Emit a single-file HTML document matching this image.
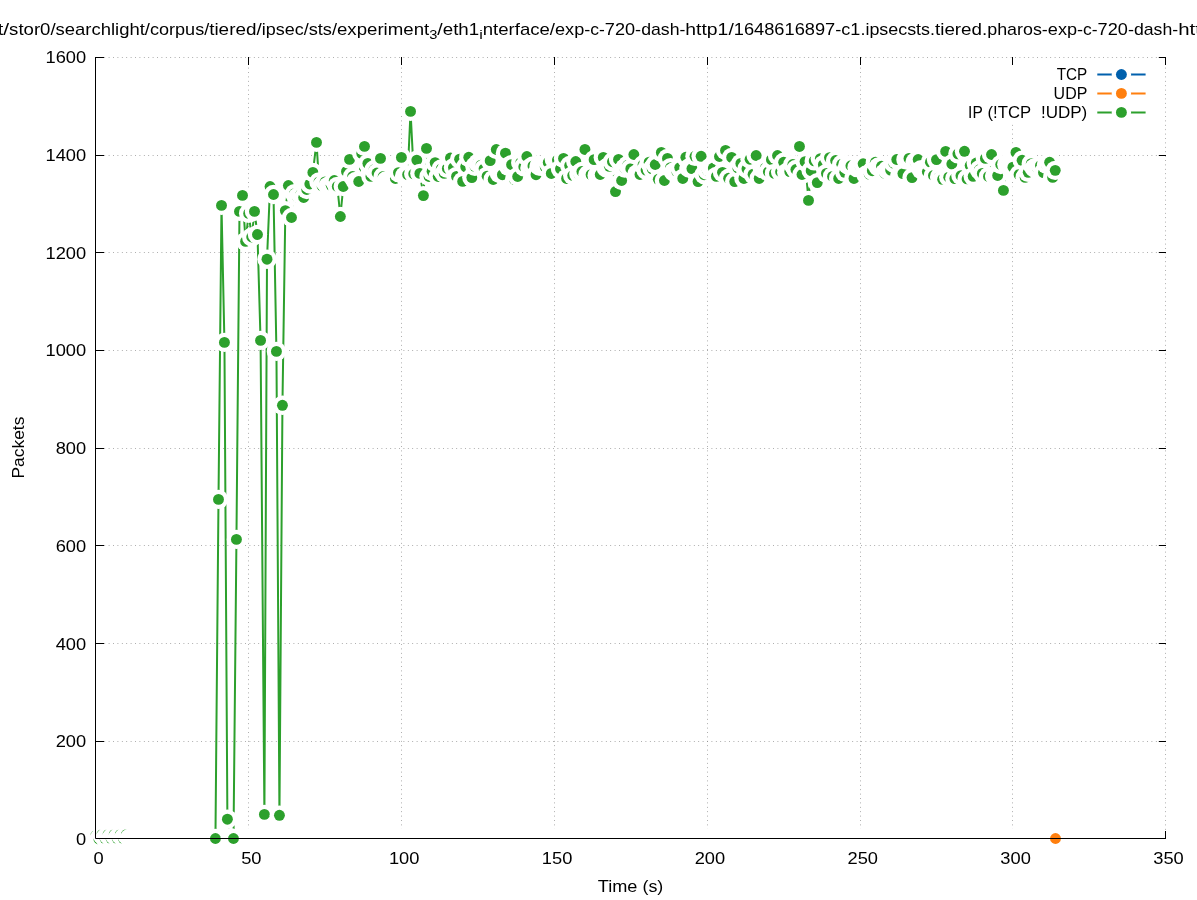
<!DOCTYPE html>
<html lang="en"><head><meta charset="utf-8"><title>Packets over time</title>
<style>html,body{margin:0;padding:0;background:#fff}body{width:1197px;height:900px;overflow:hidden}svg{display:block;will-change:transform}text{font-family:"Liberation Sans",sans-serif;fill:#000}</style>
</head><body>
<svg width="1197" height="900" viewBox="0 0 1197 900">
<rect width="1197" height="900" fill="#fff"/>
<g stroke="#808080" stroke-width="0.8" stroke-dasharray="0.8 3.6" fill="none" shape-rendering="auto">
<path d="M95.5 838.5H1165.5"/>
<path d="M95.5 741.5H1165.5"/>
<path d="M95.5 643.5H1165.5"/>
<path d="M95.5 545.5H1165.5"/>
<path d="M95.5 448.5H1165.5"/>
<path d="M95.5 350.5H1165.5"/>
<path d="M95.5 252.5H1165.5"/>
<path d="M95.5 155.5H1165.5"/>
<path d="M95.5 57.5H1165.5"/>
<path d="M95.5 838.5V57.5"/>
<path d="M248.5 838.5V57.5"/>
<path d="M401.5 838.5V57.5"/>
<path d="M554.5 838.5V57.5"/>
<path d="M707.5 838.5V57.5"/>
<path d="M860.5 838.5V57.5"/>
<path d="M1012.5 838.5V57.5"/>
<path d="M1165.5 838.5V57.5"/>
</g>
<g stroke="#000" stroke-width="1" fill="none">
<path d="M95.5 838.5h8.5 M1166 838.5h-7.2"/>
<path d="M95.5 741.5h8.5 M1166 741.5h-7.2"/>
<path d="M95.5 643.5h8.5 M1166 643.5h-7.2"/>
<path d="M95.5 545.5h8.5 M1166 545.5h-7.2"/>
<path d="M95.5 448.5h8.5 M1166 448.5h-7.2"/>
<path d="M95.5 350.5h8.5 M1166 350.5h-7.2"/>
<path d="M95.5 252.5h8.5 M1166 252.5h-7.2"/>
<path d="M95.5 155.5h8.5 M1166 155.5h-7.2"/>
<path d="M95.5 57.5h8.5 M1166 57.5h-7.2"/>
<path d="M95.5 838.5v-7.5 M95.5 57v8"/>
<path d="M248.5 838.5v-7.5 M248.5 57v8"/>
<path d="M401.5 838.5v-7.5 M401.5 57v8"/>
<path d="M554.5 838.5v-7.5 M554.5 57v8"/>
<path d="M707.5 838.5v-7.5 M707.5 57v8"/>
<path d="M860.5 838.5v-7.5 M860.5 57v8"/>
<path d="M1012.5 838.5v-7.5 M1012.5 57v8"/>
<path d="M1165.5 838.5v-7.5 M1165.5 57v8"/>
</g>
<rect x="962" y="65.3" width="190" height="56.7" fill="#fff"/>
<g>
<text x="76.02" y="845.15" font-size="16.6" textLength="10.18" lengthAdjust="spacingAndGlyphs">0</text>
<text x="55.66" y="747.15" font-size="16.6" textLength="30.54" lengthAdjust="spacingAndGlyphs">200</text>
<text x="55.66" y="650.15" font-size="16.6" textLength="30.54" lengthAdjust="spacingAndGlyphs">400</text>
<text x="55.66" y="552.15" font-size="16.6" textLength="30.54" lengthAdjust="spacingAndGlyphs">600</text>
<text x="55.66" y="454.15" font-size="16.6" textLength="30.54" lengthAdjust="spacingAndGlyphs">800</text>
<text x="45.48" y="356.15" font-size="16.6" textLength="40.72" lengthAdjust="spacingAndGlyphs">1000</text>
<text x="45.48" y="259.15" font-size="16.6" textLength="40.72" lengthAdjust="spacingAndGlyphs">1200</text>
<text x="45.48" y="161.15" font-size="16.6" textLength="40.72" lengthAdjust="spacingAndGlyphs">1400</text>
<text x="45.48" y="63.15" font-size="16.6" textLength="40.72" lengthAdjust="spacingAndGlyphs">1600</text>
<text x="93.41" y="864.1" font-size="16.6" textLength="10.18" lengthAdjust="spacingAndGlyphs">0</text>
<text x="241.18" y="864.1" font-size="16.6" textLength="20.36" lengthAdjust="spacingAndGlyphs">50</text>
<text x="388.94" y="864.1" font-size="16.6" textLength="30.54" lengthAdjust="spacingAndGlyphs">100</text>
<text x="541.8" y="864.1" font-size="16.6" textLength="30.54" lengthAdjust="spacingAndGlyphs">150</text>
<text x="694.66" y="864.1" font-size="16.6" textLength="30.54" lengthAdjust="spacingAndGlyphs">200</text>
<text x="847.52" y="864.1" font-size="16.6" textLength="30.54" lengthAdjust="spacingAndGlyphs">250</text>
<text x="1000.37" y="864.1" font-size="16.6" textLength="30.54" lengthAdjust="spacingAndGlyphs">300</text>
<text x="1153.23" y="864.1" font-size="16.6" textLength="30.54" lengthAdjust="spacingAndGlyphs">350</text>
</g>
<text y="891.9" font-size="16.6" xml:space="preserve"><tspan x="597.72" textLength="39.65" lengthAdjust="spacingAndGlyphs">Time</tspan> <tspan x="642.46" textLength="20.82" lengthAdjust="spacingAndGlyphs">(s)</tspan></text>
<g transform="translate(24.2 447.6) rotate(-90)"><text x="-30.98" y="0" font-size="16.6" textLength="61.97" lengthAdjust="spacingAndGlyphs">Packets</text></g>
<g>
<text y="34.9" font-size="16.6" xml:space="preserve"><tspan x="-2.57" textLength="11.66" lengthAdjust="spacingAndGlyphs">t/</tspan><tspan x="9.09" textLength="46.55" lengthAdjust="spacingAndGlyphs">stor0/</tspan><tspan x="55.64" textLength="94.35" lengthAdjust="spacingAndGlyphs">searchlight/</tspan><tspan x="149.99" textLength="59.19" lengthAdjust="spacingAndGlyphs">corpus/</tspan><tspan x="209.18" textLength="52.53" lengthAdjust="spacingAndGlyphs">tiered/</tspan><tspan x="261.71" textLength="46.97" lengthAdjust="spacingAndGlyphs">ipsec/</tspan><tspan x="308.68" textLength="28.34" lengthAdjust="spacingAndGlyphs">sts/</tspan><tspan x="337.01" textLength="92.18" lengthAdjust="spacingAndGlyphs">experiment</tspan></text>
<text x="429.19" y="38.5" font-size="13.28" textLength="8.14" lengthAdjust="spacingAndGlyphs">3</text>
<text y="34.9" font-size="16.6" xml:space="preserve"><tspan x="437.34" textLength="5.39" lengthAdjust="spacingAndGlyphs">/</tspan><tspan x="442.73" textLength="36.44" lengthAdjust="spacingAndGlyphs">eth1</tspan></text>
<text x="479.16" y="38.5" font-size="13.28" textLength="3.56" lengthAdjust="spacingAndGlyphs">i</text>
<text y="34.9" font-size="16.6" xml:space="preserve"><tspan x="482.72" textLength="72.3" lengthAdjust="spacingAndGlyphs">nterface/</tspan><tspan x="555.02" textLength="35.24" lengthAdjust="spacingAndGlyphs">exp-</tspan><tspan x="590.27" textLength="14.57" lengthAdjust="spacingAndGlyphs">c-</tspan><tspan x="604.84" textLength="36.31" lengthAdjust="spacingAndGlyphs">720-</tspan><tspan x="641.15" textLength="44.21" lengthAdjust="spacingAndGlyphs">dash-</tspan><tspan x="685.36" textLength="48.41" lengthAdjust="spacingAndGlyphs">http1/</tspan><tspan x="733.77" textLength="107.57" lengthAdjust="spacingAndGlyphs">1648616897-</tspan><tspan x="841.35" textLength="24.06" lengthAdjust="spacingAndGlyphs">c1.</tspan><tspan x="865.41" textLength="69.61" lengthAdjust="spacingAndGlyphs">ipsecsts.</tspan><tspan x="935.02" textLength="52.23" lengthAdjust="spacingAndGlyphs">tiered.</tspan><tspan x="987.24" textLength="60.58" lengthAdjust="spacingAndGlyphs">pharos-</tspan><tspan x="1047.82" textLength="35.24" lengthAdjust="spacingAndGlyphs">exp-</tspan><tspan x="1083.06" textLength="14.57" lengthAdjust="spacingAndGlyphs">c-</tspan><tspan x="1097.63" textLength="36.31" lengthAdjust="spacingAndGlyphs">720-</tspan><tspan x="1133.95" textLength="44.21" lengthAdjust="spacingAndGlyphs">dash-</tspan><tspan x="1178.16" textLength="22.69" lengthAdjust="spacingAndGlyphs">htt</tspan></text>
</g>
<g>
<text x="1056.71" y="80" font-size="16.6" textLength="30.59" lengthAdjust="spacingAndGlyphs">TCP</text>
<path d="M1097.3 74.5H1145.6" stroke="#0060ad" stroke-width="2" fill="none"/>
<path d="M95.8 838.5 L98.86 838.5 L101.91 838.5 L104.97 838.5 L108.03 838.5 L111.09 838.5 L114.14 838.5 L117.2 838.5 L120.26 838.5 L123.31 838.5 L126.37 838.5 L129.43 838.5 L132.49 838.5 L135.54 838.5 L138.6 838.5 L141.66 838.5 L144.71 838.5 L147.77 838.5 L150.83 838.5 L153.89 838.5 L156.94 838.5 L160 838.5 L163.06 838.5 L166.11 838.5 L169.17 838.5 L172.23 838.5 L175.29 838.5 L178.34 838.5 L181.4 838.5 L184.46 838.5 L187.51 838.5 L190.57 838.5 L193.63 838.5 L196.69 838.5 L199.74 838.5 L202.8 838.5 L205.86 838.5 L208.91 838.5 L211.97 838.5 L215.03 838.5 L218.09 838.5 L221.14 838.5 L224.2 838.5 L227.26 838.5 L230.31 838.5 L233.37 838.5 L236.43 838.5 L239.49 838.5 L242.54 838.5 L245.6 838.5 L248.66 838.5 L251.71 838.5 L254.77 838.5 L257.83 838.5 L260.89 838.5 L263.94 838.5 L267 838.5 L270.06 838.5 L273.11 838.5 L276.17 838.5 L279.23 838.5 L282.29 838.5 L285.34 838.5 L288.4 838.5 L291.46 838.5 L294.51 838.5 L297.57 838.5 L300.63 838.5 L303.69 838.5 L306.74 838.5 L309.8 838.5 L312.86 838.5 L315.91 838.5 L318.97 838.5 L322.03 838.5 L325.09 838.5 L328.14 838.5 L331.2 838.5 L334.26 838.5 L337.31 838.5 L340.37 838.5 L343.43 838.5 L346.49 838.5 L349.54 838.5 L352.6 838.5 L355.66 838.5 L358.71 838.5 L361.77 838.5 L364.83 838.5 L367.89 838.5 L370.94 838.5 L374 838.5 L377.06 838.5 L380.11 838.5 L383.17 838.5 L386.23 838.5 L389.29 838.5 L392.34 838.5 L395.4 838.5 L398.46 838.5 L401.51 838.5 L404.57 838.5 L407.63 838.5 L410.69 838.5 L413.74 838.5 L416.8 838.5 L419.86 838.5 L422.91 838.5 L425.97 838.5 L429.03 838.5 L432.09 838.5 L435.14 838.5 L438.2 838.5 L441.26 838.5 L444.31 838.5 L447.37 838.5 L450.43 838.5 L453.49 838.5 L456.54 838.5 L459.6 838.5 L462.66 838.5 L465.71 838.5 L468.77 838.5 L471.83 838.5 L474.89 838.5 L477.94 838.5 L481 838.5 L484.06 838.5 L487.11 838.5 L490.17 838.5 L493.23 838.5 L496.29 838.5 L499.34 838.5 L502.4 838.5 L505.46 838.5 L508.51 838.5 L511.57 838.5 L514.63 838.5 L517.69 838.5 L520.74 838.5 L523.8 838.5 L526.86 838.5 L529.91 838.5 L532.97 838.5 L536.03 838.5 L539.09 838.5 L542.14 838.5 L545.2 838.5 L548.26 838.5 L551.31 838.5 L554.37 838.5 L557.43 838.5 L560.49 838.5 L563.54 838.5 L566.6 838.5 L569.66 838.5 L572.71 838.5 L575.77 838.5 L578.83 838.5 L581.89 838.5 L584.94 838.5 L588 838.5 L591.06 838.5 L594.11 838.5 L597.17 838.5 L600.23 838.5 L603.29 838.5 L606.34 838.5 L609.4 838.5 L612.46 838.5 L615.51 838.5 L618.57 838.5 L621.63 838.5 L624.69 838.5 L627.74 838.5 L630.8 838.5 L633.86 838.5 L636.91 838.5 L639.97 838.5 L643.03 838.5 L646.09 838.5 L649.14 838.5 L652.2 838.5 L655.26 838.5 L658.31 838.5 L661.37 838.5 L664.43 838.5 L667.49 838.5 L670.54 838.5 L673.6 838.5 L676.66 838.5 L679.71 838.5 L682.77 838.5 L685.83 838.5 L688.89 838.5 L691.94 838.5 L695 838.5 L698.06 838.5 L701.11 838.5 L704.17 838.5 L707.23 838.5 L710.29 838.5 L713.34 838.5 L716.4 838.5 L719.46 838.5 L722.51 838.5 L725.57 838.5 L728.63 838.5 L731.69 838.5 L734.74 838.5 L737.8 838.5 L740.86 838.5 L743.91 838.5 L746.97 838.5 L750.03 838.5 L753.09 838.5 L756.14 838.5 L759.2 838.5 L762.26 838.5 L765.31 838.5 L768.37 838.5 L771.43 838.5 L774.49 838.5 L777.54 838.5 L780.6 838.5 L783.66 838.5 L786.71 838.5 L789.77 838.5 L792.83 838.5 L795.89 838.5 L798.94 838.5 L802 838.5 L805.06 838.5 L808.11 838.5 L811.17 838.5 L814.23 838.5 L817.29 838.5 L820.34 838.5 L823.4 838.5 L826.46 838.5 L829.51 838.5 L832.57 838.5 L835.63 838.5 L838.69 838.5 L841.74 838.5 L844.8 838.5 L847.86 838.5 L850.91 838.5 L853.97 838.5 L857.03 838.5 L860.09 838.5 L863.14 838.5 L866.2 838.5 L869.26 838.5 L872.31 838.5 L875.37 838.5 L878.43 838.5 L881.49 838.5 L884.54 838.5 L887.6 838.5 L890.66 838.5 L893.71 838.5 L896.77 838.5 L899.83 838.5 L902.89 838.5 L905.94 838.5 L909 838.5 L912.06 838.5 L915.11 838.5 L918.17 838.5 L921.23 838.5 L924.29 838.5 L927.34 838.5 L930.4 838.5 L933.46 838.5 L936.51 838.5 L939.57 838.5 L942.63 838.5 L945.69 838.5 L948.74 838.5 L951.8 838.5 L954.86 838.5 L957.91 838.5 L960.97 838.5 L964.03 838.5 L967.09 838.5 L970.14 838.5 L973.2 838.5 L976.26 838.5 L979.31 838.5 L982.37 838.5 L985.43 838.5 L988.49 838.5 L991.54 838.5 L994.6 838.5 L997.66 838.5 L1000.71 838.5 L1003.77 838.5 L1006.83 838.5 L1009.89 838.5 L1012.94 838.5 L1016 838.5 L1019.06 838.5 L1022.11 838.5 L1025.17 838.5 L1028.23 838.5 L1031.29 838.5 L1034.34 838.5 L1037.4 838.5 L1040.46 838.5 L1043.51 838.5 L1046.57 838.5 L1049.63 838.5 L1052.69 838.5 L1055.74 838.5" stroke="#0060ad" stroke-width="2" fill="none" stroke-linejoin="round" stroke-linecap="butt"/>
<circle cx="1121.4" cy="74.5" r="9.7" fill="#fff"/><circle cx="1121.4" cy="74.5" r="5.45" fill="#0060ad"/>
<circle cx="95.8" cy="838.5" r="9.7" fill="#fff"/><circle cx="95.8" cy="838.5" r="5.45" fill="#0060ad"/>
<circle cx="98.86" cy="838.5" r="9.7" fill="#fff"/><circle cx="98.86" cy="838.5" r="5.45" fill="#0060ad"/>
<circle cx="101.91" cy="838.5" r="9.7" fill="#fff"/><circle cx="101.91" cy="838.5" r="5.45" fill="#0060ad"/>
<circle cx="104.97" cy="838.5" r="9.7" fill="#fff"/><circle cx="104.97" cy="838.5" r="5.45" fill="#0060ad"/>
<circle cx="108.03" cy="838.5" r="9.7" fill="#fff"/><circle cx="108.03" cy="838.5" r="5.45" fill="#0060ad"/>
<circle cx="111.09" cy="838.5" r="9.7" fill="#fff"/><circle cx="111.09" cy="838.5" r="5.45" fill="#0060ad"/>
<circle cx="114.14" cy="838.5" r="9.7" fill="#fff"/><circle cx="114.14" cy="838.5" r="5.45" fill="#0060ad"/>
<circle cx="117.2" cy="838.5" r="9.7" fill="#fff"/><circle cx="117.2" cy="838.5" r="5.45" fill="#0060ad"/>
<circle cx="120.26" cy="838.5" r="9.7" fill="#fff"/><circle cx="120.26" cy="838.5" r="5.45" fill="#0060ad"/>
<circle cx="123.31" cy="838.5" r="9.7" fill="#fff"/><circle cx="123.31" cy="838.5" r="5.45" fill="#0060ad"/>
<circle cx="126.37" cy="838.5" r="9.7" fill="#fff"/><circle cx="126.37" cy="838.5" r="5.45" fill="#0060ad"/>
<circle cx="129.43" cy="838.5" r="9.7" fill="#fff"/><circle cx="129.43" cy="838.5" r="5.45" fill="#0060ad"/>
<circle cx="132.49" cy="838.5" r="9.7" fill="#fff"/><circle cx="132.49" cy="838.5" r="5.45" fill="#0060ad"/>
<circle cx="135.54" cy="838.5" r="9.7" fill="#fff"/><circle cx="135.54" cy="838.5" r="5.45" fill="#0060ad"/>
<circle cx="138.6" cy="838.5" r="9.7" fill="#fff"/><circle cx="138.6" cy="838.5" r="5.45" fill="#0060ad"/>
<circle cx="141.66" cy="838.5" r="9.7" fill="#fff"/><circle cx="141.66" cy="838.5" r="5.45" fill="#0060ad"/>
<circle cx="144.71" cy="838.5" r="9.7" fill="#fff"/><circle cx="144.71" cy="838.5" r="5.45" fill="#0060ad"/>
<circle cx="147.77" cy="838.5" r="9.7" fill="#fff"/><circle cx="147.77" cy="838.5" r="5.45" fill="#0060ad"/>
<circle cx="150.83" cy="838.5" r="9.7" fill="#fff"/><circle cx="150.83" cy="838.5" r="5.45" fill="#0060ad"/>
<circle cx="153.89" cy="838.5" r="9.7" fill="#fff"/><circle cx="153.89" cy="838.5" r="5.45" fill="#0060ad"/>
<circle cx="156.94" cy="838.5" r="9.7" fill="#fff"/><circle cx="156.94" cy="838.5" r="5.45" fill="#0060ad"/>
<circle cx="160" cy="838.5" r="9.7" fill="#fff"/><circle cx="160" cy="838.5" r="5.45" fill="#0060ad"/>
<circle cx="163.06" cy="838.5" r="9.7" fill="#fff"/><circle cx="163.06" cy="838.5" r="5.45" fill="#0060ad"/>
<circle cx="166.11" cy="838.5" r="9.7" fill="#fff"/><circle cx="166.11" cy="838.5" r="5.45" fill="#0060ad"/>
<circle cx="169.17" cy="838.5" r="9.7" fill="#fff"/><circle cx="169.17" cy="838.5" r="5.45" fill="#0060ad"/>
<circle cx="172.23" cy="838.5" r="9.7" fill="#fff"/><circle cx="172.23" cy="838.5" r="5.45" fill="#0060ad"/>
<circle cx="175.29" cy="838.5" r="9.7" fill="#fff"/><circle cx="175.29" cy="838.5" r="5.45" fill="#0060ad"/>
<circle cx="178.34" cy="838.5" r="9.7" fill="#fff"/><circle cx="178.34" cy="838.5" r="5.45" fill="#0060ad"/>
<circle cx="181.4" cy="838.5" r="9.7" fill="#fff"/><circle cx="181.4" cy="838.5" r="5.45" fill="#0060ad"/>
<circle cx="184.46" cy="838.5" r="9.7" fill="#fff"/><circle cx="184.46" cy="838.5" r="5.45" fill="#0060ad"/>
<circle cx="187.51" cy="838.5" r="9.7" fill="#fff"/><circle cx="187.51" cy="838.5" r="5.45" fill="#0060ad"/>
<circle cx="190.57" cy="838.5" r="9.7" fill="#fff"/><circle cx="190.57" cy="838.5" r="5.45" fill="#0060ad"/>
<circle cx="193.63" cy="838.5" r="9.7" fill="#fff"/><circle cx="193.63" cy="838.5" r="5.45" fill="#0060ad"/>
<circle cx="196.69" cy="838.5" r="9.7" fill="#fff"/><circle cx="196.69" cy="838.5" r="5.45" fill="#0060ad"/>
<circle cx="199.74" cy="838.5" r="9.7" fill="#fff"/><circle cx="199.74" cy="838.5" r="5.45" fill="#0060ad"/>
<circle cx="202.8" cy="838.5" r="9.7" fill="#fff"/><circle cx="202.8" cy="838.5" r="5.45" fill="#0060ad"/>
<circle cx="205.86" cy="838.5" r="9.7" fill="#fff"/><circle cx="205.86" cy="838.5" r="5.45" fill="#0060ad"/>
<circle cx="208.91" cy="838.5" r="9.7" fill="#fff"/><circle cx="208.91" cy="838.5" r="5.45" fill="#0060ad"/>
<circle cx="211.97" cy="838.5" r="9.7" fill="#fff"/><circle cx="211.97" cy="838.5" r="5.45" fill="#0060ad"/>
<circle cx="215.03" cy="838.5" r="9.7" fill="#fff"/><circle cx="215.03" cy="838.5" r="5.45" fill="#0060ad"/>
<circle cx="218.09" cy="838.5" r="9.7" fill="#fff"/><circle cx="218.09" cy="838.5" r="5.45" fill="#0060ad"/>
<circle cx="221.14" cy="838.5" r="9.7" fill="#fff"/><circle cx="221.14" cy="838.5" r="5.45" fill="#0060ad"/>
<circle cx="224.2" cy="838.5" r="9.7" fill="#fff"/><circle cx="224.2" cy="838.5" r="5.45" fill="#0060ad"/>
<circle cx="227.26" cy="838.5" r="9.7" fill="#fff"/><circle cx="227.26" cy="838.5" r="5.45" fill="#0060ad"/>
<circle cx="230.31" cy="838.5" r="9.7" fill="#fff"/><circle cx="230.31" cy="838.5" r="5.45" fill="#0060ad"/>
<circle cx="233.37" cy="838.5" r="9.7" fill="#fff"/><circle cx="233.37" cy="838.5" r="5.45" fill="#0060ad"/>
<circle cx="236.43" cy="838.5" r="9.7" fill="#fff"/><circle cx="236.43" cy="838.5" r="5.45" fill="#0060ad"/>
<circle cx="239.49" cy="838.5" r="9.7" fill="#fff"/><circle cx="239.49" cy="838.5" r="5.45" fill="#0060ad"/>
<circle cx="242.54" cy="838.5" r="9.7" fill="#fff"/><circle cx="242.54" cy="838.5" r="5.45" fill="#0060ad"/>
<circle cx="245.6" cy="838.5" r="9.7" fill="#fff"/><circle cx="245.6" cy="838.5" r="5.45" fill="#0060ad"/>
<circle cx="248.66" cy="838.5" r="9.7" fill="#fff"/><circle cx="248.66" cy="838.5" r="5.45" fill="#0060ad"/>
<circle cx="251.71" cy="838.5" r="9.7" fill="#fff"/><circle cx="251.71" cy="838.5" r="5.45" fill="#0060ad"/>
<circle cx="254.77" cy="838.5" r="9.7" fill="#fff"/><circle cx="254.77" cy="838.5" r="5.45" fill="#0060ad"/>
<circle cx="257.83" cy="838.5" r="9.7" fill="#fff"/><circle cx="257.83" cy="838.5" r="5.45" fill="#0060ad"/>
<circle cx="260.89" cy="838.5" r="9.7" fill="#fff"/><circle cx="260.89" cy="838.5" r="5.45" fill="#0060ad"/>
<circle cx="263.94" cy="838.5" r="9.7" fill="#fff"/><circle cx="263.94" cy="838.5" r="5.45" fill="#0060ad"/>
<circle cx="267" cy="838.5" r="9.7" fill="#fff"/><circle cx="267" cy="838.5" r="5.45" fill="#0060ad"/>
<circle cx="270.06" cy="838.5" r="9.7" fill="#fff"/><circle cx="270.06" cy="838.5" r="5.45" fill="#0060ad"/>
<circle cx="273.11" cy="838.5" r="9.7" fill="#fff"/><circle cx="273.11" cy="838.5" r="5.45" fill="#0060ad"/>
<circle cx="276.17" cy="838.5" r="9.7" fill="#fff"/><circle cx="276.17" cy="838.5" r="5.45" fill="#0060ad"/>
<circle cx="279.23" cy="838.5" r="9.7" fill="#fff"/><circle cx="279.23" cy="838.5" r="5.45" fill="#0060ad"/>
<circle cx="282.29" cy="838.5" r="9.7" fill="#fff"/><circle cx="282.29" cy="838.5" r="5.45" fill="#0060ad"/>
<circle cx="285.34" cy="838.5" r="9.7" fill="#fff"/><circle cx="285.34" cy="838.5" r="5.45" fill="#0060ad"/>
<circle cx="288.4" cy="838.5" r="9.7" fill="#fff"/><circle cx="288.4" cy="838.5" r="5.45" fill="#0060ad"/>
<circle cx="291.46" cy="838.5" r="9.7" fill="#fff"/><circle cx="291.46" cy="838.5" r="5.45" fill="#0060ad"/>
<circle cx="294.51" cy="838.5" r="9.7" fill="#fff"/><circle cx="294.51" cy="838.5" r="5.45" fill="#0060ad"/>
<circle cx="297.57" cy="838.5" r="9.7" fill="#fff"/><circle cx="297.57" cy="838.5" r="5.45" fill="#0060ad"/>
<circle cx="300.63" cy="838.5" r="9.7" fill="#fff"/><circle cx="300.63" cy="838.5" r="5.45" fill="#0060ad"/>
<circle cx="303.69" cy="838.5" r="9.7" fill="#fff"/><circle cx="303.69" cy="838.5" r="5.45" fill="#0060ad"/>
<circle cx="306.74" cy="838.5" r="9.7" fill="#fff"/><circle cx="306.74" cy="838.5" r="5.45" fill="#0060ad"/>
<circle cx="309.8" cy="838.5" r="9.7" fill="#fff"/><circle cx="309.8" cy="838.5" r="5.45" fill="#0060ad"/>
<circle cx="312.86" cy="838.5" r="9.7" fill="#fff"/><circle cx="312.86" cy="838.5" r="5.45" fill="#0060ad"/>
<circle cx="315.91" cy="838.5" r="9.7" fill="#fff"/><circle cx="315.91" cy="838.5" r="5.45" fill="#0060ad"/>
<circle cx="318.97" cy="838.5" r="9.7" fill="#fff"/><circle cx="318.97" cy="838.5" r="5.45" fill="#0060ad"/>
<circle cx="322.03" cy="838.5" r="9.7" fill="#fff"/><circle cx="322.03" cy="838.5" r="5.45" fill="#0060ad"/>
<circle cx="325.09" cy="838.5" r="9.7" fill="#fff"/><circle cx="325.09" cy="838.5" r="5.45" fill="#0060ad"/>
<circle cx="328.14" cy="838.5" r="9.7" fill="#fff"/><circle cx="328.14" cy="838.5" r="5.45" fill="#0060ad"/>
<circle cx="331.2" cy="838.5" r="9.7" fill="#fff"/><circle cx="331.2" cy="838.5" r="5.45" fill="#0060ad"/>
<circle cx="334.26" cy="838.5" r="9.7" fill="#fff"/><circle cx="334.26" cy="838.5" r="5.45" fill="#0060ad"/>
<circle cx="337.31" cy="838.5" r="9.7" fill="#fff"/><circle cx="337.31" cy="838.5" r="5.45" fill="#0060ad"/>
<circle cx="340.37" cy="838.5" r="9.7" fill="#fff"/><circle cx="340.37" cy="838.5" r="5.45" fill="#0060ad"/>
<circle cx="343.43" cy="838.5" r="9.7" fill="#fff"/><circle cx="343.43" cy="838.5" r="5.45" fill="#0060ad"/>
<circle cx="346.49" cy="838.5" r="9.7" fill="#fff"/><circle cx="346.49" cy="838.5" r="5.45" fill="#0060ad"/>
<circle cx="349.54" cy="838.5" r="9.7" fill="#fff"/><circle cx="349.54" cy="838.5" r="5.45" fill="#0060ad"/>
<circle cx="352.6" cy="838.5" r="9.7" fill="#fff"/><circle cx="352.6" cy="838.5" r="5.45" fill="#0060ad"/>
<circle cx="355.66" cy="838.5" r="9.7" fill="#fff"/><circle cx="355.66" cy="838.5" r="5.45" fill="#0060ad"/>
<circle cx="358.71" cy="838.5" r="9.7" fill="#fff"/><circle cx="358.71" cy="838.5" r="5.45" fill="#0060ad"/>
<circle cx="361.77" cy="838.5" r="9.7" fill="#fff"/><circle cx="361.77" cy="838.5" r="5.45" fill="#0060ad"/>
<circle cx="364.83" cy="838.5" r="9.7" fill="#fff"/><circle cx="364.83" cy="838.5" r="5.45" fill="#0060ad"/>
<circle cx="367.89" cy="838.5" r="9.7" fill="#fff"/><circle cx="367.89" cy="838.5" r="5.45" fill="#0060ad"/>
<circle cx="370.94" cy="838.5" r="9.7" fill="#fff"/><circle cx="370.94" cy="838.5" r="5.45" fill="#0060ad"/>
<circle cx="374" cy="838.5" r="9.7" fill="#fff"/><circle cx="374" cy="838.5" r="5.45" fill="#0060ad"/>
<circle cx="377.06" cy="838.5" r="9.7" fill="#fff"/><circle cx="377.06" cy="838.5" r="5.45" fill="#0060ad"/>
<circle cx="380.11" cy="838.5" r="9.7" fill="#fff"/><circle cx="380.11" cy="838.5" r="5.45" fill="#0060ad"/>
<circle cx="383.17" cy="838.5" r="9.7" fill="#fff"/><circle cx="383.17" cy="838.5" r="5.45" fill="#0060ad"/>
<circle cx="386.23" cy="838.5" r="9.7" fill="#fff"/><circle cx="386.23" cy="838.5" r="5.45" fill="#0060ad"/>
<circle cx="389.29" cy="838.5" r="9.7" fill="#fff"/><circle cx="389.29" cy="838.5" r="5.45" fill="#0060ad"/>
<circle cx="392.34" cy="838.5" r="9.7" fill="#fff"/><circle cx="392.34" cy="838.5" r="5.45" fill="#0060ad"/>
<circle cx="395.4" cy="838.5" r="9.7" fill="#fff"/><circle cx="395.4" cy="838.5" r="5.45" fill="#0060ad"/>
<circle cx="398.46" cy="838.5" r="9.7" fill="#fff"/><circle cx="398.46" cy="838.5" r="5.45" fill="#0060ad"/>
<circle cx="401.51" cy="838.5" r="9.7" fill="#fff"/><circle cx="401.51" cy="838.5" r="5.45" fill="#0060ad"/>
<circle cx="404.57" cy="838.5" r="9.7" fill="#fff"/><circle cx="404.57" cy="838.5" r="5.45" fill="#0060ad"/>
<circle cx="407.63" cy="838.5" r="9.7" fill="#fff"/><circle cx="407.63" cy="838.5" r="5.45" fill="#0060ad"/>
<circle cx="410.69" cy="838.5" r="9.7" fill="#fff"/><circle cx="410.69" cy="838.5" r="5.45" fill="#0060ad"/>
<circle cx="413.74" cy="838.5" r="9.7" fill="#fff"/><circle cx="413.74" cy="838.5" r="5.45" fill="#0060ad"/>
<circle cx="416.8" cy="838.5" r="9.7" fill="#fff"/><circle cx="416.8" cy="838.5" r="5.45" fill="#0060ad"/>
<circle cx="419.86" cy="838.5" r="9.7" fill="#fff"/><circle cx="419.86" cy="838.5" r="5.45" fill="#0060ad"/>
<circle cx="422.91" cy="838.5" r="9.7" fill="#fff"/><circle cx="422.91" cy="838.5" r="5.45" fill="#0060ad"/>
<circle cx="425.97" cy="838.5" r="9.7" fill="#fff"/><circle cx="425.97" cy="838.5" r="5.45" fill="#0060ad"/>
<circle cx="429.03" cy="838.5" r="9.7" fill="#fff"/><circle cx="429.03" cy="838.5" r="5.45" fill="#0060ad"/>
<circle cx="432.09" cy="838.5" r="9.7" fill="#fff"/><circle cx="432.09" cy="838.5" r="5.45" fill="#0060ad"/>
<circle cx="435.14" cy="838.5" r="9.7" fill="#fff"/><circle cx="435.14" cy="838.5" r="5.45" fill="#0060ad"/>
<circle cx="438.2" cy="838.5" r="9.7" fill="#fff"/><circle cx="438.2" cy="838.5" r="5.45" fill="#0060ad"/>
<circle cx="441.26" cy="838.5" r="9.7" fill="#fff"/><circle cx="441.26" cy="838.5" r="5.45" fill="#0060ad"/>
<circle cx="444.31" cy="838.5" r="9.7" fill="#fff"/><circle cx="444.31" cy="838.5" r="5.45" fill="#0060ad"/>
<circle cx="447.37" cy="838.5" r="9.7" fill="#fff"/><circle cx="447.37" cy="838.5" r="5.45" fill="#0060ad"/>
<circle cx="450.43" cy="838.5" r="9.7" fill="#fff"/><circle cx="450.43" cy="838.5" r="5.45" fill="#0060ad"/>
<circle cx="453.49" cy="838.5" r="9.7" fill="#fff"/><circle cx="453.49" cy="838.5" r="5.45" fill="#0060ad"/>
<circle cx="456.54" cy="838.5" r="9.7" fill="#fff"/><circle cx="456.54" cy="838.5" r="5.45" fill="#0060ad"/>
<circle cx="459.6" cy="838.5" r="9.7" fill="#fff"/><circle cx="459.6" cy="838.5" r="5.45" fill="#0060ad"/>
<circle cx="462.66" cy="838.5" r="9.7" fill="#fff"/><circle cx="462.66" cy="838.5" r="5.45" fill="#0060ad"/>
<circle cx="465.71" cy="838.5" r="9.7" fill="#fff"/><circle cx="465.71" cy="838.5" r="5.45" fill="#0060ad"/>
<circle cx="468.77" cy="838.5" r="9.7" fill="#fff"/><circle cx="468.77" cy="838.5" r="5.45" fill="#0060ad"/>
<circle cx="471.83" cy="838.5" r="9.7" fill="#fff"/><circle cx="471.83" cy="838.5" r="5.45" fill="#0060ad"/>
<circle cx="474.89" cy="838.5" r="9.7" fill="#fff"/><circle cx="474.89" cy="838.5" r="5.45" fill="#0060ad"/>
<circle cx="477.94" cy="838.5" r="9.7" fill="#fff"/><circle cx="477.94" cy="838.5" r="5.45" fill="#0060ad"/>
<circle cx="481" cy="838.5" r="9.7" fill="#fff"/><circle cx="481" cy="838.5" r="5.45" fill="#0060ad"/>
<circle cx="484.06" cy="838.5" r="9.7" fill="#fff"/><circle cx="484.06" cy="838.5" r="5.45" fill="#0060ad"/>
<circle cx="487.11" cy="838.5" r="9.7" fill="#fff"/><circle cx="487.11" cy="838.5" r="5.45" fill="#0060ad"/>
<circle cx="490.17" cy="838.5" r="9.7" fill="#fff"/><circle cx="490.17" cy="838.5" r="5.45" fill="#0060ad"/>
<circle cx="493.23" cy="838.5" r="9.7" fill="#fff"/><circle cx="493.23" cy="838.5" r="5.45" fill="#0060ad"/>
<circle cx="496.29" cy="838.5" r="9.7" fill="#fff"/><circle cx="496.29" cy="838.5" r="5.45" fill="#0060ad"/>
<circle cx="499.34" cy="838.5" r="9.7" fill="#fff"/><circle cx="499.34" cy="838.5" r="5.45" fill="#0060ad"/>
<circle cx="502.4" cy="838.5" r="9.7" fill="#fff"/><circle cx="502.4" cy="838.5" r="5.45" fill="#0060ad"/>
<circle cx="505.46" cy="838.5" r="9.7" fill="#fff"/><circle cx="505.46" cy="838.5" r="5.45" fill="#0060ad"/>
<circle cx="508.51" cy="838.5" r="9.7" fill="#fff"/><circle cx="508.51" cy="838.5" r="5.45" fill="#0060ad"/>
<circle cx="511.57" cy="838.5" r="9.7" fill="#fff"/><circle cx="511.57" cy="838.5" r="5.45" fill="#0060ad"/>
<circle cx="514.63" cy="838.5" r="9.7" fill="#fff"/><circle cx="514.63" cy="838.5" r="5.45" fill="#0060ad"/>
<circle cx="517.69" cy="838.5" r="9.7" fill="#fff"/><circle cx="517.69" cy="838.5" r="5.45" fill="#0060ad"/>
<circle cx="520.74" cy="838.5" r="9.7" fill="#fff"/><circle cx="520.74" cy="838.5" r="5.45" fill="#0060ad"/>
<circle cx="523.8" cy="838.5" r="9.7" fill="#fff"/><circle cx="523.8" cy="838.5" r="5.45" fill="#0060ad"/>
<circle cx="526.86" cy="838.5" r="9.7" fill="#fff"/><circle cx="526.86" cy="838.5" r="5.45" fill="#0060ad"/>
<circle cx="529.91" cy="838.5" r="9.7" fill="#fff"/><circle cx="529.91" cy="838.5" r="5.45" fill="#0060ad"/>
<circle cx="532.97" cy="838.5" r="9.7" fill="#fff"/><circle cx="532.97" cy="838.5" r="5.45" fill="#0060ad"/>
<circle cx="536.03" cy="838.5" r="9.7" fill="#fff"/><circle cx="536.03" cy="838.5" r="5.45" fill="#0060ad"/>
<circle cx="539.09" cy="838.5" r="9.7" fill="#fff"/><circle cx="539.09" cy="838.5" r="5.45" fill="#0060ad"/>
<circle cx="542.14" cy="838.5" r="9.7" fill="#fff"/><circle cx="542.14" cy="838.5" r="5.45" fill="#0060ad"/>
<circle cx="545.2" cy="838.5" r="9.7" fill="#fff"/><circle cx="545.2" cy="838.5" r="5.45" fill="#0060ad"/>
<circle cx="548.26" cy="838.5" r="9.7" fill="#fff"/><circle cx="548.26" cy="838.5" r="5.45" fill="#0060ad"/>
<circle cx="551.31" cy="838.5" r="9.7" fill="#fff"/><circle cx="551.31" cy="838.5" r="5.45" fill="#0060ad"/>
<circle cx="554.37" cy="838.5" r="9.7" fill="#fff"/><circle cx="554.37" cy="838.5" r="5.45" fill="#0060ad"/>
<circle cx="557.43" cy="838.5" r="9.7" fill="#fff"/><circle cx="557.43" cy="838.5" r="5.45" fill="#0060ad"/>
<circle cx="560.49" cy="838.5" r="9.7" fill="#fff"/><circle cx="560.49" cy="838.5" r="5.45" fill="#0060ad"/>
<circle cx="563.54" cy="838.5" r="9.7" fill="#fff"/><circle cx="563.54" cy="838.5" r="5.45" fill="#0060ad"/>
<circle cx="566.6" cy="838.5" r="9.7" fill="#fff"/><circle cx="566.6" cy="838.5" r="5.45" fill="#0060ad"/>
<circle cx="569.66" cy="838.5" r="9.7" fill="#fff"/><circle cx="569.66" cy="838.5" r="5.45" fill="#0060ad"/>
<circle cx="572.71" cy="838.5" r="9.7" fill="#fff"/><circle cx="572.71" cy="838.5" r="5.45" fill="#0060ad"/>
<circle cx="575.77" cy="838.5" r="9.7" fill="#fff"/><circle cx="575.77" cy="838.5" r="5.45" fill="#0060ad"/>
<circle cx="578.83" cy="838.5" r="9.7" fill="#fff"/><circle cx="578.83" cy="838.5" r="5.45" fill="#0060ad"/>
<circle cx="581.89" cy="838.5" r="9.7" fill="#fff"/><circle cx="581.89" cy="838.5" r="5.45" fill="#0060ad"/>
<circle cx="584.94" cy="838.5" r="9.7" fill="#fff"/><circle cx="584.94" cy="838.5" r="5.45" fill="#0060ad"/>
<circle cx="588" cy="838.5" r="9.7" fill="#fff"/><circle cx="588" cy="838.5" r="5.45" fill="#0060ad"/>
<circle cx="591.06" cy="838.5" r="9.7" fill="#fff"/><circle cx="591.06" cy="838.5" r="5.45" fill="#0060ad"/>
<circle cx="594.11" cy="838.5" r="9.7" fill="#fff"/><circle cx="594.11" cy="838.5" r="5.45" fill="#0060ad"/>
<circle cx="597.17" cy="838.5" r="9.7" fill="#fff"/><circle cx="597.17" cy="838.5" r="5.45" fill="#0060ad"/>
<circle cx="600.23" cy="838.5" r="9.7" fill="#fff"/><circle cx="600.23" cy="838.5" r="5.45" fill="#0060ad"/>
<circle cx="603.29" cy="838.5" r="9.7" fill="#fff"/><circle cx="603.29" cy="838.5" r="5.45" fill="#0060ad"/>
<circle cx="606.34" cy="838.5" r="9.7" fill="#fff"/><circle cx="606.34" cy="838.5" r="5.45" fill="#0060ad"/>
<circle cx="609.4" cy="838.5" r="9.7" fill="#fff"/><circle cx="609.4" cy="838.5" r="5.45" fill="#0060ad"/>
<circle cx="612.46" cy="838.5" r="9.7" fill="#fff"/><circle cx="612.46" cy="838.5" r="5.45" fill="#0060ad"/>
<circle cx="615.51" cy="838.5" r="9.7" fill="#fff"/><circle cx="615.51" cy="838.5" r="5.45" fill="#0060ad"/>
<circle cx="618.57" cy="838.5" r="9.7" fill="#fff"/><circle cx="618.57" cy="838.5" r="5.45" fill="#0060ad"/>
<circle cx="621.63" cy="838.5" r="9.7" fill="#fff"/><circle cx="621.63" cy="838.5" r="5.45" fill="#0060ad"/>
<circle cx="624.69" cy="838.5" r="9.7" fill="#fff"/><circle cx="624.69" cy="838.5" r="5.45" fill="#0060ad"/>
<circle cx="627.74" cy="838.5" r="9.7" fill="#fff"/><circle cx="627.74" cy="838.5" r="5.45" fill="#0060ad"/>
<circle cx="630.8" cy="838.5" r="9.7" fill="#fff"/><circle cx="630.8" cy="838.5" r="5.45" fill="#0060ad"/>
<circle cx="633.86" cy="838.5" r="9.7" fill="#fff"/><circle cx="633.86" cy="838.5" r="5.45" fill="#0060ad"/>
<circle cx="636.91" cy="838.5" r="9.7" fill="#fff"/><circle cx="636.91" cy="838.5" r="5.45" fill="#0060ad"/>
<circle cx="639.97" cy="838.5" r="9.7" fill="#fff"/><circle cx="639.97" cy="838.5" r="5.45" fill="#0060ad"/>
<circle cx="643.03" cy="838.5" r="9.7" fill="#fff"/><circle cx="643.03" cy="838.5" r="5.45" fill="#0060ad"/>
<circle cx="646.09" cy="838.5" r="9.7" fill="#fff"/><circle cx="646.09" cy="838.5" r="5.45" fill="#0060ad"/>
<circle cx="649.14" cy="838.5" r="9.7" fill="#fff"/><circle cx="649.14" cy="838.5" r="5.45" fill="#0060ad"/>
<circle cx="652.2" cy="838.5" r="9.7" fill="#fff"/><circle cx="652.2" cy="838.5" r="5.45" fill="#0060ad"/>
<circle cx="655.26" cy="838.5" r="9.7" fill="#fff"/><circle cx="655.26" cy="838.5" r="5.45" fill="#0060ad"/>
<circle cx="658.31" cy="838.5" r="9.7" fill="#fff"/><circle cx="658.31" cy="838.5" r="5.45" fill="#0060ad"/>
<circle cx="661.37" cy="838.5" r="9.7" fill="#fff"/><circle cx="661.37" cy="838.5" r="5.45" fill="#0060ad"/>
<circle cx="664.43" cy="838.5" r="9.7" fill="#fff"/><circle cx="664.43" cy="838.5" r="5.45" fill="#0060ad"/>
<circle cx="667.49" cy="838.5" r="9.7" fill="#fff"/><circle cx="667.49" cy="838.5" r="5.45" fill="#0060ad"/>
<circle cx="670.54" cy="838.5" r="9.7" fill="#fff"/><circle cx="670.54" cy="838.5" r="5.45" fill="#0060ad"/>
<circle cx="673.6" cy="838.5" r="9.7" fill="#fff"/><circle cx="673.6" cy="838.5" r="5.45" fill="#0060ad"/>
<circle cx="676.66" cy="838.5" r="9.7" fill="#fff"/><circle cx="676.66" cy="838.5" r="5.45" fill="#0060ad"/>
<circle cx="679.71" cy="838.5" r="9.7" fill="#fff"/><circle cx="679.71" cy="838.5" r="5.45" fill="#0060ad"/>
<circle cx="682.77" cy="838.5" r="9.7" fill="#fff"/><circle cx="682.77" cy="838.5" r="5.45" fill="#0060ad"/>
<circle cx="685.83" cy="838.5" r="9.7" fill="#fff"/><circle cx="685.83" cy="838.5" r="5.45" fill="#0060ad"/>
<circle cx="688.89" cy="838.5" r="9.7" fill="#fff"/><circle cx="688.89" cy="838.5" r="5.45" fill="#0060ad"/>
<circle cx="691.94" cy="838.5" r="9.7" fill="#fff"/><circle cx="691.94" cy="838.5" r="5.45" fill="#0060ad"/>
<circle cx="695" cy="838.5" r="9.7" fill="#fff"/><circle cx="695" cy="838.5" r="5.45" fill="#0060ad"/>
<circle cx="698.06" cy="838.5" r="9.7" fill="#fff"/><circle cx="698.06" cy="838.5" r="5.45" fill="#0060ad"/>
<circle cx="701.11" cy="838.5" r="9.7" fill="#fff"/><circle cx="701.11" cy="838.5" r="5.45" fill="#0060ad"/>
<circle cx="704.17" cy="838.5" r="9.7" fill="#fff"/><circle cx="704.17" cy="838.5" r="5.45" fill="#0060ad"/>
<circle cx="707.23" cy="838.5" r="9.7" fill="#fff"/><circle cx="707.23" cy="838.5" r="5.45" fill="#0060ad"/>
<circle cx="710.29" cy="838.5" r="9.7" fill="#fff"/><circle cx="710.29" cy="838.5" r="5.45" fill="#0060ad"/>
<circle cx="713.34" cy="838.5" r="9.7" fill="#fff"/><circle cx="713.34" cy="838.5" r="5.45" fill="#0060ad"/>
<circle cx="716.4" cy="838.5" r="9.7" fill="#fff"/><circle cx="716.4" cy="838.5" r="5.45" fill="#0060ad"/>
<circle cx="719.46" cy="838.5" r="9.7" fill="#fff"/><circle cx="719.46" cy="838.5" r="5.45" fill="#0060ad"/>
<circle cx="722.51" cy="838.5" r="9.7" fill="#fff"/><circle cx="722.51" cy="838.5" r="5.45" fill="#0060ad"/>
<circle cx="725.57" cy="838.5" r="9.7" fill="#fff"/><circle cx="725.57" cy="838.5" r="5.45" fill="#0060ad"/>
<circle cx="728.63" cy="838.5" r="9.7" fill="#fff"/><circle cx="728.63" cy="838.5" r="5.45" fill="#0060ad"/>
<circle cx="731.69" cy="838.5" r="9.7" fill="#fff"/><circle cx="731.69" cy="838.5" r="5.45" fill="#0060ad"/>
<circle cx="734.74" cy="838.5" r="9.7" fill="#fff"/><circle cx="734.74" cy="838.5" r="5.45" fill="#0060ad"/>
<circle cx="737.8" cy="838.5" r="9.7" fill="#fff"/><circle cx="737.8" cy="838.5" r="5.45" fill="#0060ad"/>
<circle cx="740.86" cy="838.5" r="9.7" fill="#fff"/><circle cx="740.86" cy="838.5" r="5.45" fill="#0060ad"/>
<circle cx="743.91" cy="838.5" r="9.7" fill="#fff"/><circle cx="743.91" cy="838.5" r="5.45" fill="#0060ad"/>
<circle cx="746.97" cy="838.5" r="9.7" fill="#fff"/><circle cx="746.97" cy="838.5" r="5.45" fill="#0060ad"/>
<circle cx="750.03" cy="838.5" r="9.7" fill="#fff"/><circle cx="750.03" cy="838.5" r="5.45" fill="#0060ad"/>
<circle cx="753.09" cy="838.5" r="9.7" fill="#fff"/><circle cx="753.09" cy="838.5" r="5.45" fill="#0060ad"/>
<circle cx="756.14" cy="838.5" r="9.7" fill="#fff"/><circle cx="756.14" cy="838.5" r="5.45" fill="#0060ad"/>
<circle cx="759.2" cy="838.5" r="9.7" fill="#fff"/><circle cx="759.2" cy="838.5" r="5.45" fill="#0060ad"/>
<circle cx="762.26" cy="838.5" r="9.7" fill="#fff"/><circle cx="762.26" cy="838.5" r="5.45" fill="#0060ad"/>
<circle cx="765.31" cy="838.5" r="9.7" fill="#fff"/><circle cx="765.31" cy="838.5" r="5.45" fill="#0060ad"/>
<circle cx="768.37" cy="838.5" r="9.7" fill="#fff"/><circle cx="768.37" cy="838.5" r="5.45" fill="#0060ad"/>
<circle cx="771.43" cy="838.5" r="9.7" fill="#fff"/><circle cx="771.43" cy="838.5" r="5.45" fill="#0060ad"/>
<circle cx="774.49" cy="838.5" r="9.7" fill="#fff"/><circle cx="774.49" cy="838.5" r="5.45" fill="#0060ad"/>
<circle cx="777.54" cy="838.5" r="9.7" fill="#fff"/><circle cx="777.54" cy="838.5" r="5.45" fill="#0060ad"/>
<circle cx="780.6" cy="838.5" r="9.7" fill="#fff"/><circle cx="780.6" cy="838.5" r="5.45" fill="#0060ad"/>
<circle cx="783.66" cy="838.5" r="9.7" fill="#fff"/><circle cx="783.66" cy="838.5" r="5.45" fill="#0060ad"/>
<circle cx="786.71" cy="838.5" r="9.7" fill="#fff"/><circle cx="786.71" cy="838.5" r="5.45" fill="#0060ad"/>
<circle cx="789.77" cy="838.5" r="9.7" fill="#fff"/><circle cx="789.77" cy="838.5" r="5.45" fill="#0060ad"/>
<circle cx="792.83" cy="838.5" r="9.7" fill="#fff"/><circle cx="792.83" cy="838.5" r="5.45" fill="#0060ad"/>
<circle cx="795.89" cy="838.5" r="9.7" fill="#fff"/><circle cx="795.89" cy="838.5" r="5.45" fill="#0060ad"/>
<circle cx="798.94" cy="838.5" r="9.7" fill="#fff"/><circle cx="798.94" cy="838.5" r="5.45" fill="#0060ad"/>
<circle cx="802" cy="838.5" r="9.7" fill="#fff"/><circle cx="802" cy="838.5" r="5.45" fill="#0060ad"/>
<circle cx="805.06" cy="838.5" r="9.7" fill="#fff"/><circle cx="805.06" cy="838.5" r="5.45" fill="#0060ad"/>
<circle cx="808.11" cy="838.5" r="9.7" fill="#fff"/><circle cx="808.11" cy="838.5" r="5.45" fill="#0060ad"/>
<circle cx="811.17" cy="838.5" r="9.7" fill="#fff"/><circle cx="811.17" cy="838.5" r="5.45" fill="#0060ad"/>
<circle cx="814.23" cy="838.5" r="9.7" fill="#fff"/><circle cx="814.23" cy="838.5" r="5.45" fill="#0060ad"/>
<circle cx="817.29" cy="838.5" r="9.7" fill="#fff"/><circle cx="817.29" cy="838.5" r="5.45" fill="#0060ad"/>
<circle cx="820.34" cy="838.5" r="9.7" fill="#fff"/><circle cx="820.34" cy="838.5" r="5.45" fill="#0060ad"/>
<circle cx="823.4" cy="838.5" r="9.7" fill="#fff"/><circle cx="823.4" cy="838.5" r="5.45" fill="#0060ad"/>
<circle cx="826.46" cy="838.5" r="9.7" fill="#fff"/><circle cx="826.46" cy="838.5" r="5.45" fill="#0060ad"/>
<circle cx="829.51" cy="838.5" r="9.7" fill="#fff"/><circle cx="829.51" cy="838.5" r="5.45" fill="#0060ad"/>
<circle cx="832.57" cy="838.5" r="9.7" fill="#fff"/><circle cx="832.57" cy="838.5" r="5.45" fill="#0060ad"/>
<circle cx="835.63" cy="838.5" r="9.7" fill="#fff"/><circle cx="835.63" cy="838.5" r="5.45" fill="#0060ad"/>
<circle cx="838.69" cy="838.5" r="9.7" fill="#fff"/><circle cx="838.69" cy="838.5" r="5.45" fill="#0060ad"/>
<circle cx="841.74" cy="838.5" r="9.7" fill="#fff"/><circle cx="841.74" cy="838.5" r="5.45" fill="#0060ad"/>
<circle cx="844.8" cy="838.5" r="9.7" fill="#fff"/><circle cx="844.8" cy="838.5" r="5.45" fill="#0060ad"/>
<circle cx="847.86" cy="838.5" r="9.7" fill="#fff"/><circle cx="847.86" cy="838.5" r="5.45" fill="#0060ad"/>
<circle cx="850.91" cy="838.5" r="9.7" fill="#fff"/><circle cx="850.91" cy="838.5" r="5.45" fill="#0060ad"/>
<circle cx="853.97" cy="838.5" r="9.7" fill="#fff"/><circle cx="853.97" cy="838.5" r="5.45" fill="#0060ad"/>
<circle cx="857.03" cy="838.5" r="9.7" fill="#fff"/><circle cx="857.03" cy="838.5" r="5.45" fill="#0060ad"/>
<circle cx="860.09" cy="838.5" r="9.7" fill="#fff"/><circle cx="860.09" cy="838.5" r="5.45" fill="#0060ad"/>
<circle cx="863.14" cy="838.5" r="9.7" fill="#fff"/><circle cx="863.14" cy="838.5" r="5.45" fill="#0060ad"/>
<circle cx="866.2" cy="838.5" r="9.7" fill="#fff"/><circle cx="866.2" cy="838.5" r="5.45" fill="#0060ad"/>
<circle cx="869.26" cy="838.5" r="9.7" fill="#fff"/><circle cx="869.26" cy="838.5" r="5.45" fill="#0060ad"/>
<circle cx="872.31" cy="838.5" r="9.7" fill="#fff"/><circle cx="872.31" cy="838.5" r="5.45" fill="#0060ad"/>
<circle cx="875.37" cy="838.5" r="9.7" fill="#fff"/><circle cx="875.37" cy="838.5" r="5.45" fill="#0060ad"/>
<circle cx="878.43" cy="838.5" r="9.7" fill="#fff"/><circle cx="878.43" cy="838.5" r="5.45" fill="#0060ad"/>
<circle cx="881.49" cy="838.5" r="9.7" fill="#fff"/><circle cx="881.49" cy="838.5" r="5.45" fill="#0060ad"/>
<circle cx="884.54" cy="838.5" r="9.7" fill="#fff"/><circle cx="884.54" cy="838.5" r="5.45" fill="#0060ad"/>
<circle cx="887.6" cy="838.5" r="9.7" fill="#fff"/><circle cx="887.6" cy="838.5" r="5.45" fill="#0060ad"/>
<circle cx="890.66" cy="838.5" r="9.7" fill="#fff"/><circle cx="890.66" cy="838.5" r="5.45" fill="#0060ad"/>
<circle cx="893.71" cy="838.5" r="9.7" fill="#fff"/><circle cx="893.71" cy="838.5" r="5.45" fill="#0060ad"/>
<circle cx="896.77" cy="838.5" r="9.7" fill="#fff"/><circle cx="896.77" cy="838.5" r="5.45" fill="#0060ad"/>
<circle cx="899.83" cy="838.5" r="9.7" fill="#fff"/><circle cx="899.83" cy="838.5" r="5.45" fill="#0060ad"/>
<circle cx="902.89" cy="838.5" r="9.7" fill="#fff"/><circle cx="902.89" cy="838.5" r="5.45" fill="#0060ad"/>
<circle cx="905.94" cy="838.5" r="9.7" fill="#fff"/><circle cx="905.94" cy="838.5" r="5.45" fill="#0060ad"/>
<circle cx="909" cy="838.5" r="9.7" fill="#fff"/><circle cx="909" cy="838.5" r="5.45" fill="#0060ad"/>
<circle cx="912.06" cy="838.5" r="9.7" fill="#fff"/><circle cx="912.06" cy="838.5" r="5.45" fill="#0060ad"/>
<circle cx="915.11" cy="838.5" r="9.7" fill="#fff"/><circle cx="915.11" cy="838.5" r="5.45" fill="#0060ad"/>
<circle cx="918.17" cy="838.5" r="9.7" fill="#fff"/><circle cx="918.17" cy="838.5" r="5.45" fill="#0060ad"/>
<circle cx="921.23" cy="838.5" r="9.7" fill="#fff"/><circle cx="921.23" cy="838.5" r="5.45" fill="#0060ad"/>
<circle cx="924.29" cy="838.5" r="9.7" fill="#fff"/><circle cx="924.29" cy="838.5" r="5.45" fill="#0060ad"/>
<circle cx="927.34" cy="838.5" r="9.7" fill="#fff"/><circle cx="927.34" cy="838.5" r="5.45" fill="#0060ad"/>
<circle cx="930.4" cy="838.5" r="9.7" fill="#fff"/><circle cx="930.4" cy="838.5" r="5.45" fill="#0060ad"/>
<circle cx="933.46" cy="838.5" r="9.7" fill="#fff"/><circle cx="933.46" cy="838.5" r="5.45" fill="#0060ad"/>
<circle cx="936.51" cy="838.5" r="9.7" fill="#fff"/><circle cx="936.51" cy="838.5" r="5.45" fill="#0060ad"/>
<circle cx="939.57" cy="838.5" r="9.7" fill="#fff"/><circle cx="939.57" cy="838.5" r="5.45" fill="#0060ad"/>
<circle cx="942.63" cy="838.5" r="9.7" fill="#fff"/><circle cx="942.63" cy="838.5" r="5.45" fill="#0060ad"/>
<circle cx="945.69" cy="838.5" r="9.7" fill="#fff"/><circle cx="945.69" cy="838.5" r="5.45" fill="#0060ad"/>
<circle cx="948.74" cy="838.5" r="9.7" fill="#fff"/><circle cx="948.74" cy="838.5" r="5.45" fill="#0060ad"/>
<circle cx="951.8" cy="838.5" r="9.7" fill="#fff"/><circle cx="951.8" cy="838.5" r="5.45" fill="#0060ad"/>
<circle cx="954.86" cy="838.5" r="9.7" fill="#fff"/><circle cx="954.86" cy="838.5" r="5.45" fill="#0060ad"/>
<circle cx="957.91" cy="838.5" r="9.7" fill="#fff"/><circle cx="957.91" cy="838.5" r="5.45" fill="#0060ad"/>
<circle cx="960.97" cy="838.5" r="9.7" fill="#fff"/><circle cx="960.97" cy="838.5" r="5.45" fill="#0060ad"/>
<circle cx="964.03" cy="838.5" r="9.7" fill="#fff"/><circle cx="964.03" cy="838.5" r="5.45" fill="#0060ad"/>
<circle cx="967.09" cy="838.5" r="9.7" fill="#fff"/><circle cx="967.09" cy="838.5" r="5.45" fill="#0060ad"/>
<circle cx="970.14" cy="838.5" r="9.7" fill="#fff"/><circle cx="970.14" cy="838.5" r="5.45" fill="#0060ad"/>
<circle cx="973.2" cy="838.5" r="9.7" fill="#fff"/><circle cx="973.2" cy="838.5" r="5.45" fill="#0060ad"/>
<circle cx="976.26" cy="838.5" r="9.7" fill="#fff"/><circle cx="976.26" cy="838.5" r="5.45" fill="#0060ad"/>
<circle cx="979.31" cy="838.5" r="9.7" fill="#fff"/><circle cx="979.31" cy="838.5" r="5.45" fill="#0060ad"/>
<circle cx="982.37" cy="838.5" r="9.7" fill="#fff"/><circle cx="982.37" cy="838.5" r="5.45" fill="#0060ad"/>
<circle cx="985.43" cy="838.5" r="9.7" fill="#fff"/><circle cx="985.43" cy="838.5" r="5.45" fill="#0060ad"/>
<circle cx="988.49" cy="838.5" r="9.7" fill="#fff"/><circle cx="988.49" cy="838.5" r="5.45" fill="#0060ad"/>
<circle cx="991.54" cy="838.5" r="9.7" fill="#fff"/><circle cx="991.54" cy="838.5" r="5.45" fill="#0060ad"/>
<circle cx="994.6" cy="838.5" r="9.7" fill="#fff"/><circle cx="994.6" cy="838.5" r="5.45" fill="#0060ad"/>
<circle cx="997.66" cy="838.5" r="9.7" fill="#fff"/><circle cx="997.66" cy="838.5" r="5.45" fill="#0060ad"/>
<circle cx="1000.71" cy="838.5" r="9.7" fill="#fff"/><circle cx="1000.71" cy="838.5" r="5.45" fill="#0060ad"/>
<circle cx="1003.77" cy="838.5" r="9.7" fill="#fff"/><circle cx="1003.77" cy="838.5" r="5.45" fill="#0060ad"/>
<circle cx="1006.83" cy="838.5" r="9.7" fill="#fff"/><circle cx="1006.83" cy="838.5" r="5.45" fill="#0060ad"/>
<circle cx="1009.89" cy="838.5" r="9.7" fill="#fff"/><circle cx="1009.89" cy="838.5" r="5.45" fill="#0060ad"/>
<circle cx="1012.94" cy="838.5" r="9.7" fill="#fff"/><circle cx="1012.94" cy="838.5" r="5.45" fill="#0060ad"/>
<circle cx="1016" cy="838.5" r="9.7" fill="#fff"/><circle cx="1016" cy="838.5" r="5.45" fill="#0060ad"/>
<circle cx="1019.06" cy="838.5" r="9.7" fill="#fff"/><circle cx="1019.06" cy="838.5" r="5.45" fill="#0060ad"/>
<circle cx="1022.11" cy="838.5" r="9.7" fill="#fff"/><circle cx="1022.11" cy="838.5" r="5.45" fill="#0060ad"/>
<circle cx="1025.17" cy="838.5" r="9.7" fill="#fff"/><circle cx="1025.17" cy="838.5" r="5.45" fill="#0060ad"/>
<circle cx="1028.23" cy="838.5" r="9.7" fill="#fff"/><circle cx="1028.23" cy="838.5" r="5.45" fill="#0060ad"/>
<circle cx="1031.29" cy="838.5" r="9.7" fill="#fff"/><circle cx="1031.29" cy="838.5" r="5.45" fill="#0060ad"/>
<circle cx="1034.34" cy="838.5" r="9.7" fill="#fff"/><circle cx="1034.34" cy="838.5" r="5.45" fill="#0060ad"/>
<circle cx="1037.4" cy="838.5" r="9.7" fill="#fff"/><circle cx="1037.4" cy="838.5" r="5.45" fill="#0060ad"/>
<circle cx="1040.46" cy="838.5" r="9.7" fill="#fff"/><circle cx="1040.46" cy="838.5" r="5.45" fill="#0060ad"/>
<circle cx="1043.51" cy="838.5" r="9.7" fill="#fff"/><circle cx="1043.51" cy="838.5" r="5.45" fill="#0060ad"/>
<circle cx="1046.57" cy="838.5" r="9.7" fill="#fff"/><circle cx="1046.57" cy="838.5" r="5.45" fill="#0060ad"/>
<circle cx="1049.63" cy="838.5" r="9.7" fill="#fff"/><circle cx="1049.63" cy="838.5" r="5.45" fill="#0060ad"/>
<circle cx="1052.69" cy="838.5" r="9.7" fill="#fff"/><circle cx="1052.69" cy="838.5" r="5.45" fill="#0060ad"/>
<circle cx="1055.74" cy="838.5" r="9.7" fill="#fff"/><circle cx="1055.74" cy="838.5" r="5.45" fill="#0060ad"/>
</g>
<g>
<text x="1053.62" y="98.9" font-size="16.6" textLength="33.68" lengthAdjust="spacingAndGlyphs">UDP</text>
<path d="M1097.3 93.4H1145.6" stroke="#ff7f0e" stroke-width="2" fill="none"/>
<path d="M95.8 838.5 L98.86 838.5 L101.91 838.5 L104.97 838.5 L108.03 838.5 L111.09 838.5 L114.14 838.5 L117.2 838.5 L120.26 838.5 L123.31 838.5 L126.37 838.5 L129.43 838.5 L132.49 838.5 L135.54 838.5 L138.6 838.5 L141.66 838.5 L144.71 838.5 L147.77 838.5 L150.83 838.5 L153.89 838.5 L156.94 838.5 L160 838.5 L163.06 838.5 L166.11 838.5 L169.17 838.5 L172.23 838.5 L175.29 838.5 L178.34 838.5 L181.4 838.5 L184.46 838.5 L187.51 838.5 L190.57 838.5 L193.63 838.5 L196.69 838.5 L199.74 838.5 L202.8 838.5 L205.86 838.5 L208.91 838.5 L211.97 838.5 L215.03 838.5 L218.09 838.5 L221.14 838.5 L224.2 838.5 L227.26 838.5 L230.31 838.5 L233.37 838.5 L236.43 838.5 L239.49 838.5 L242.54 838.5 L245.6 838.5 L248.66 838.5 L251.71 838.5 L254.77 838.5 L257.83 838.5 L260.89 838.5 L263.94 838.5 L267 838.5 L270.06 838.5 L273.11 838.5 L276.17 838.5 L279.23 838.5 L282.29 838.5 L285.34 838.5 L288.4 838.5 L291.46 838.5 L294.51 838.5 L297.57 838.5 L300.63 838.5 L303.69 838.5 L306.74 838.5 L309.8 838.5 L312.86 838.5 L315.91 838.5 L318.97 838.5 L322.03 838.5 L325.09 838.5 L328.14 838.5 L331.2 838.5 L334.26 838.5 L337.31 838.5 L340.37 838.5 L343.43 838.5 L346.49 838.5 L349.54 838.5 L352.6 838.5 L355.66 838.5 L358.71 838.5 L361.77 838.5 L364.83 838.5 L367.89 838.5 L370.94 838.5 L374 838.5 L377.06 838.5 L380.11 838.5 L383.17 838.5 L386.23 838.5 L389.29 838.5 L392.34 838.5 L395.4 838.5 L398.46 838.5 L401.51 838.5 L404.57 838.5 L407.63 838.5 L410.69 838.5 L413.74 838.5 L416.8 838.5 L419.86 838.5 L422.91 838.5 L425.97 838.5 L429.03 838.5 L432.09 838.5 L435.14 838.5 L438.2 838.5 L441.26 838.5 L444.31 838.5 L447.37 838.5 L450.43 838.5 L453.49 838.5 L456.54 838.5 L459.6 838.5 L462.66 838.5 L465.71 838.5 L468.77 838.5 L471.83 838.5 L474.89 838.5 L477.94 838.5 L481 838.5 L484.06 838.5 L487.11 838.5 L490.17 838.5 L493.23 838.5 L496.29 838.5 L499.34 838.5 L502.4 838.5 L505.46 838.5 L508.51 838.5 L511.57 838.5 L514.63 838.5 L517.69 838.5 L520.74 838.5 L523.8 838.5 L526.86 838.5 L529.91 838.5 L532.97 838.5 L536.03 838.5 L539.09 838.5 L542.14 838.5 L545.2 838.5 L548.26 838.5 L551.31 838.5 L554.37 838.5 L557.43 838.5 L560.49 838.5 L563.54 838.5 L566.6 838.5 L569.66 838.5 L572.71 838.5 L575.77 838.5 L578.83 838.5 L581.89 838.5 L584.94 838.5 L588 838.5 L591.06 838.5 L594.11 838.5 L597.17 838.5 L600.23 838.5 L603.29 838.5 L606.34 838.5 L609.4 838.5 L612.46 838.5 L615.51 838.5 L618.57 838.5 L621.63 838.5 L624.69 838.5 L627.74 838.5 L630.8 838.5 L633.86 838.5 L636.91 838.5 L639.97 838.5 L643.03 838.5 L646.09 838.5 L649.14 838.5 L652.2 838.5 L655.26 838.5 L658.31 838.5 L661.37 838.5 L664.43 838.5 L667.49 838.5 L670.54 838.5 L673.6 838.5 L676.66 838.5 L679.71 838.5 L682.77 838.5 L685.83 838.5 L688.89 838.5 L691.94 838.5 L695 838.5 L698.06 838.5 L701.11 838.5 L704.17 838.5 L707.23 838.5 L710.29 838.5 L713.34 838.5 L716.4 838.5 L719.46 838.5 L722.51 838.5 L725.57 838.5 L728.63 838.5 L731.69 838.5 L734.74 838.5 L737.8 838.5 L740.86 838.5 L743.91 838.5 L746.97 838.5 L750.03 838.5 L753.09 838.5 L756.14 838.5 L759.2 838.5 L762.26 838.5 L765.31 838.5 L768.37 838.5 L771.43 838.5 L774.49 838.5 L777.54 838.5 L780.6 838.5 L783.66 838.5 L786.71 838.5 L789.77 838.5 L792.83 838.5 L795.89 838.5 L798.94 838.5 L802 838.5 L805.06 838.5 L808.11 838.5 L811.17 838.5 L814.23 838.5 L817.29 838.5 L820.34 838.5 L823.4 838.5 L826.46 838.5 L829.51 838.5 L832.57 838.5 L835.63 838.5 L838.69 838.5 L841.74 838.5 L844.8 838.5 L847.86 838.5 L850.91 838.5 L853.97 838.5 L857.03 838.5 L860.09 838.5 L863.14 838.5 L866.2 838.5 L869.26 838.5 L872.31 838.5 L875.37 838.5 L878.43 838.5 L881.49 838.5 L884.54 838.5 L887.6 838.5 L890.66 838.5 L893.71 838.5 L896.77 838.5 L899.83 838.5 L902.89 838.5 L905.94 838.5 L909 838.5 L912.06 838.5 L915.11 838.5 L918.17 838.5 L921.23 838.5 L924.29 838.5 L927.34 838.5 L930.4 838.5 L933.46 838.5 L936.51 838.5 L939.57 838.5 L942.63 838.5 L945.69 838.5 L948.74 838.5 L951.8 838.5 L954.86 838.5 L957.91 838.5 L960.97 838.5 L964.03 838.5 L967.09 838.5 L970.14 838.5 L973.2 838.5 L976.26 838.5 L979.31 838.5 L982.37 838.5 L985.43 838.5 L988.49 838.5 L991.54 838.5 L994.6 838.5 L997.66 838.5 L1000.71 838.5 L1003.77 838.5 L1006.83 838.5 L1009.89 838.5 L1012.94 838.5 L1016 838.5 L1019.06 838.5 L1022.11 838.5 L1025.17 838.5 L1028.23 838.5 L1031.29 838.5 L1034.34 838.5 L1037.4 838.5 L1040.46 838.5 L1043.51 838.5 L1046.57 838.5 L1049.63 838.5 L1052.69 838.5 L1055.5 838.5" stroke="#ff7f0e" stroke-width="2" fill="none" stroke-linejoin="round" stroke-linecap="butt"/>
<circle cx="1121.4" cy="93.4" r="9.7" fill="#fff"/><circle cx="1121.4" cy="93.4" r="5.45" fill="#ff7f0e"/>
<circle cx="95.8" cy="838.5" r="9.7" fill="#fff"/><circle cx="95.8" cy="838.5" r="5.45" fill="#ff7f0e"/>
<circle cx="98.86" cy="838.5" r="9.7" fill="#fff"/><circle cx="98.86" cy="838.5" r="5.45" fill="#ff7f0e"/>
<circle cx="101.91" cy="838.5" r="9.7" fill="#fff"/><circle cx="101.91" cy="838.5" r="5.45" fill="#ff7f0e"/>
<circle cx="104.97" cy="838.5" r="9.7" fill="#fff"/><circle cx="104.97" cy="838.5" r="5.45" fill="#ff7f0e"/>
<circle cx="108.03" cy="838.5" r="9.7" fill="#fff"/><circle cx="108.03" cy="838.5" r="5.45" fill="#ff7f0e"/>
<circle cx="111.09" cy="838.5" r="9.7" fill="#fff"/><circle cx="111.09" cy="838.5" r="5.45" fill="#ff7f0e"/>
<circle cx="114.14" cy="838.5" r="9.7" fill="#fff"/><circle cx="114.14" cy="838.5" r="5.45" fill="#ff7f0e"/>
<circle cx="117.2" cy="838.5" r="9.7" fill="#fff"/><circle cx="117.2" cy="838.5" r="5.45" fill="#ff7f0e"/>
<circle cx="120.26" cy="838.5" r="9.7" fill="#fff"/><circle cx="120.26" cy="838.5" r="5.45" fill="#ff7f0e"/>
<circle cx="123.31" cy="838.5" r="9.7" fill="#fff"/><circle cx="123.31" cy="838.5" r="5.45" fill="#ff7f0e"/>
<circle cx="126.37" cy="838.5" r="9.7" fill="#fff"/><circle cx="126.37" cy="838.5" r="5.45" fill="#ff7f0e"/>
<circle cx="129.43" cy="838.5" r="9.7" fill="#fff"/><circle cx="129.43" cy="838.5" r="5.45" fill="#ff7f0e"/>
<circle cx="132.49" cy="838.5" r="9.7" fill="#fff"/><circle cx="132.49" cy="838.5" r="5.45" fill="#ff7f0e"/>
<circle cx="135.54" cy="838.5" r="9.7" fill="#fff"/><circle cx="135.54" cy="838.5" r="5.45" fill="#ff7f0e"/>
<circle cx="138.6" cy="838.5" r="9.7" fill="#fff"/><circle cx="138.6" cy="838.5" r="5.45" fill="#ff7f0e"/>
<circle cx="141.66" cy="838.5" r="9.7" fill="#fff"/><circle cx="141.66" cy="838.5" r="5.45" fill="#ff7f0e"/>
<circle cx="144.71" cy="838.5" r="9.7" fill="#fff"/><circle cx="144.71" cy="838.5" r="5.45" fill="#ff7f0e"/>
<circle cx="147.77" cy="838.5" r="9.7" fill="#fff"/><circle cx="147.77" cy="838.5" r="5.45" fill="#ff7f0e"/>
<circle cx="150.83" cy="838.5" r="9.7" fill="#fff"/><circle cx="150.83" cy="838.5" r="5.45" fill="#ff7f0e"/>
<circle cx="153.89" cy="838.5" r="9.7" fill="#fff"/><circle cx="153.89" cy="838.5" r="5.45" fill="#ff7f0e"/>
<circle cx="156.94" cy="838.5" r="9.7" fill="#fff"/><circle cx="156.94" cy="838.5" r="5.45" fill="#ff7f0e"/>
<circle cx="160" cy="838.5" r="9.7" fill="#fff"/><circle cx="160" cy="838.5" r="5.45" fill="#ff7f0e"/>
<circle cx="163.06" cy="838.5" r="9.7" fill="#fff"/><circle cx="163.06" cy="838.5" r="5.45" fill="#ff7f0e"/>
<circle cx="166.11" cy="838.5" r="9.7" fill="#fff"/><circle cx="166.11" cy="838.5" r="5.45" fill="#ff7f0e"/>
<circle cx="169.17" cy="838.5" r="9.7" fill="#fff"/><circle cx="169.17" cy="838.5" r="5.45" fill="#ff7f0e"/>
<circle cx="172.23" cy="838.5" r="9.7" fill="#fff"/><circle cx="172.23" cy="838.5" r="5.45" fill="#ff7f0e"/>
<circle cx="175.29" cy="838.5" r="9.7" fill="#fff"/><circle cx="175.29" cy="838.5" r="5.45" fill="#ff7f0e"/>
<circle cx="178.34" cy="838.5" r="9.7" fill="#fff"/><circle cx="178.34" cy="838.5" r="5.45" fill="#ff7f0e"/>
<circle cx="181.4" cy="838.5" r="9.7" fill="#fff"/><circle cx="181.4" cy="838.5" r="5.45" fill="#ff7f0e"/>
<circle cx="184.46" cy="838.5" r="9.7" fill="#fff"/><circle cx="184.46" cy="838.5" r="5.45" fill="#ff7f0e"/>
<circle cx="187.51" cy="838.5" r="9.7" fill="#fff"/><circle cx="187.51" cy="838.5" r="5.45" fill="#ff7f0e"/>
<circle cx="190.57" cy="838.5" r="9.7" fill="#fff"/><circle cx="190.57" cy="838.5" r="5.45" fill="#ff7f0e"/>
<circle cx="193.63" cy="838.5" r="9.7" fill="#fff"/><circle cx="193.63" cy="838.5" r="5.45" fill="#ff7f0e"/>
<circle cx="196.69" cy="838.5" r="9.7" fill="#fff"/><circle cx="196.69" cy="838.5" r="5.45" fill="#ff7f0e"/>
<circle cx="199.74" cy="838.5" r="9.7" fill="#fff"/><circle cx="199.74" cy="838.5" r="5.45" fill="#ff7f0e"/>
<circle cx="202.8" cy="838.5" r="9.7" fill="#fff"/><circle cx="202.8" cy="838.5" r="5.45" fill="#ff7f0e"/>
<circle cx="205.86" cy="838.5" r="9.7" fill="#fff"/><circle cx="205.86" cy="838.5" r="5.45" fill="#ff7f0e"/>
<circle cx="208.91" cy="838.5" r="9.7" fill="#fff"/><circle cx="208.91" cy="838.5" r="5.45" fill="#ff7f0e"/>
<circle cx="211.97" cy="838.5" r="9.7" fill="#fff"/><circle cx="211.97" cy="838.5" r="5.45" fill="#ff7f0e"/>
<circle cx="215.03" cy="838.5" r="9.7" fill="#fff"/><circle cx="215.03" cy="838.5" r="5.45" fill="#ff7f0e"/>
<circle cx="218.09" cy="838.5" r="9.7" fill="#fff"/><circle cx="218.09" cy="838.5" r="5.45" fill="#ff7f0e"/>
<circle cx="221.14" cy="838.5" r="9.7" fill="#fff"/><circle cx="221.14" cy="838.5" r="5.45" fill="#ff7f0e"/>
<circle cx="224.2" cy="838.5" r="9.7" fill="#fff"/><circle cx="224.2" cy="838.5" r="5.45" fill="#ff7f0e"/>
<circle cx="227.26" cy="838.5" r="9.7" fill="#fff"/><circle cx="227.26" cy="838.5" r="5.45" fill="#ff7f0e"/>
<circle cx="230.31" cy="838.5" r="9.7" fill="#fff"/><circle cx="230.31" cy="838.5" r="5.45" fill="#ff7f0e"/>
<circle cx="233.37" cy="838.5" r="9.7" fill="#fff"/><circle cx="233.37" cy="838.5" r="5.45" fill="#ff7f0e"/>
<circle cx="236.43" cy="838.5" r="9.7" fill="#fff"/><circle cx="236.43" cy="838.5" r="5.45" fill="#ff7f0e"/>
<circle cx="239.49" cy="838.5" r="9.7" fill="#fff"/><circle cx="239.49" cy="838.5" r="5.45" fill="#ff7f0e"/>
<circle cx="242.54" cy="838.5" r="9.7" fill="#fff"/><circle cx="242.54" cy="838.5" r="5.45" fill="#ff7f0e"/>
<circle cx="245.6" cy="838.5" r="9.7" fill="#fff"/><circle cx="245.6" cy="838.5" r="5.45" fill="#ff7f0e"/>
<circle cx="248.66" cy="838.5" r="9.7" fill="#fff"/><circle cx="248.66" cy="838.5" r="5.45" fill="#ff7f0e"/>
<circle cx="251.71" cy="838.5" r="9.7" fill="#fff"/><circle cx="251.71" cy="838.5" r="5.45" fill="#ff7f0e"/>
<circle cx="254.77" cy="838.5" r="9.7" fill="#fff"/><circle cx="254.77" cy="838.5" r="5.45" fill="#ff7f0e"/>
<circle cx="257.83" cy="838.5" r="9.7" fill="#fff"/><circle cx="257.83" cy="838.5" r="5.45" fill="#ff7f0e"/>
<circle cx="260.89" cy="838.5" r="9.7" fill="#fff"/><circle cx="260.89" cy="838.5" r="5.45" fill="#ff7f0e"/>
<circle cx="263.94" cy="838.5" r="9.7" fill="#fff"/><circle cx="263.94" cy="838.5" r="5.45" fill="#ff7f0e"/>
<circle cx="267" cy="838.5" r="9.7" fill="#fff"/><circle cx="267" cy="838.5" r="5.45" fill="#ff7f0e"/>
<circle cx="270.06" cy="838.5" r="9.7" fill="#fff"/><circle cx="270.06" cy="838.5" r="5.45" fill="#ff7f0e"/>
<circle cx="273.11" cy="838.5" r="9.7" fill="#fff"/><circle cx="273.11" cy="838.5" r="5.45" fill="#ff7f0e"/>
<circle cx="276.17" cy="838.5" r="9.7" fill="#fff"/><circle cx="276.17" cy="838.5" r="5.45" fill="#ff7f0e"/>
<circle cx="279.23" cy="838.5" r="9.7" fill="#fff"/><circle cx="279.23" cy="838.5" r="5.45" fill="#ff7f0e"/>
<circle cx="282.29" cy="838.5" r="9.7" fill="#fff"/><circle cx="282.29" cy="838.5" r="5.45" fill="#ff7f0e"/>
<circle cx="285.34" cy="838.5" r="9.7" fill="#fff"/><circle cx="285.34" cy="838.5" r="5.45" fill="#ff7f0e"/>
<circle cx="288.4" cy="838.5" r="9.7" fill="#fff"/><circle cx="288.4" cy="838.5" r="5.45" fill="#ff7f0e"/>
<circle cx="291.46" cy="838.5" r="9.7" fill="#fff"/><circle cx="291.46" cy="838.5" r="5.45" fill="#ff7f0e"/>
<circle cx="294.51" cy="838.5" r="9.7" fill="#fff"/><circle cx="294.51" cy="838.5" r="5.45" fill="#ff7f0e"/>
<circle cx="297.57" cy="838.5" r="9.7" fill="#fff"/><circle cx="297.57" cy="838.5" r="5.45" fill="#ff7f0e"/>
<circle cx="300.63" cy="838.5" r="9.7" fill="#fff"/><circle cx="300.63" cy="838.5" r="5.45" fill="#ff7f0e"/>
<circle cx="303.69" cy="838.5" r="9.7" fill="#fff"/><circle cx="303.69" cy="838.5" r="5.45" fill="#ff7f0e"/>
<circle cx="306.74" cy="838.5" r="9.7" fill="#fff"/><circle cx="306.74" cy="838.5" r="5.45" fill="#ff7f0e"/>
<circle cx="309.8" cy="838.5" r="9.7" fill="#fff"/><circle cx="309.8" cy="838.5" r="5.45" fill="#ff7f0e"/>
<circle cx="312.86" cy="838.5" r="9.7" fill="#fff"/><circle cx="312.86" cy="838.5" r="5.45" fill="#ff7f0e"/>
<circle cx="315.91" cy="838.5" r="9.7" fill="#fff"/><circle cx="315.91" cy="838.5" r="5.45" fill="#ff7f0e"/>
<circle cx="318.97" cy="838.5" r="9.7" fill="#fff"/><circle cx="318.97" cy="838.5" r="5.45" fill="#ff7f0e"/>
<circle cx="322.03" cy="838.5" r="9.7" fill="#fff"/><circle cx="322.03" cy="838.5" r="5.45" fill="#ff7f0e"/>
<circle cx="325.09" cy="838.5" r="9.7" fill="#fff"/><circle cx="325.09" cy="838.5" r="5.45" fill="#ff7f0e"/>
<circle cx="328.14" cy="838.5" r="9.7" fill="#fff"/><circle cx="328.14" cy="838.5" r="5.45" fill="#ff7f0e"/>
<circle cx="331.2" cy="838.5" r="9.7" fill="#fff"/><circle cx="331.2" cy="838.5" r="5.45" fill="#ff7f0e"/>
<circle cx="334.26" cy="838.5" r="9.7" fill="#fff"/><circle cx="334.26" cy="838.5" r="5.45" fill="#ff7f0e"/>
<circle cx="337.31" cy="838.5" r="9.7" fill="#fff"/><circle cx="337.31" cy="838.5" r="5.45" fill="#ff7f0e"/>
<circle cx="340.37" cy="838.5" r="9.7" fill="#fff"/><circle cx="340.37" cy="838.5" r="5.45" fill="#ff7f0e"/>
<circle cx="343.43" cy="838.5" r="9.7" fill="#fff"/><circle cx="343.43" cy="838.5" r="5.45" fill="#ff7f0e"/>
<circle cx="346.49" cy="838.5" r="9.7" fill="#fff"/><circle cx="346.49" cy="838.5" r="5.45" fill="#ff7f0e"/>
<circle cx="349.54" cy="838.5" r="9.7" fill="#fff"/><circle cx="349.54" cy="838.5" r="5.45" fill="#ff7f0e"/>
<circle cx="352.6" cy="838.5" r="9.7" fill="#fff"/><circle cx="352.6" cy="838.5" r="5.45" fill="#ff7f0e"/>
<circle cx="355.66" cy="838.5" r="9.7" fill="#fff"/><circle cx="355.66" cy="838.5" r="5.45" fill="#ff7f0e"/>
<circle cx="358.71" cy="838.5" r="9.7" fill="#fff"/><circle cx="358.71" cy="838.5" r="5.45" fill="#ff7f0e"/>
<circle cx="361.77" cy="838.5" r="9.7" fill="#fff"/><circle cx="361.77" cy="838.5" r="5.45" fill="#ff7f0e"/>
<circle cx="364.83" cy="838.5" r="9.7" fill="#fff"/><circle cx="364.83" cy="838.5" r="5.45" fill="#ff7f0e"/>
<circle cx="367.89" cy="838.5" r="9.7" fill="#fff"/><circle cx="367.89" cy="838.5" r="5.45" fill="#ff7f0e"/>
<circle cx="370.94" cy="838.5" r="9.7" fill="#fff"/><circle cx="370.94" cy="838.5" r="5.45" fill="#ff7f0e"/>
<circle cx="374" cy="838.5" r="9.7" fill="#fff"/><circle cx="374" cy="838.5" r="5.45" fill="#ff7f0e"/>
<circle cx="377.06" cy="838.5" r="9.7" fill="#fff"/><circle cx="377.06" cy="838.5" r="5.45" fill="#ff7f0e"/>
<circle cx="380.11" cy="838.5" r="9.7" fill="#fff"/><circle cx="380.11" cy="838.5" r="5.45" fill="#ff7f0e"/>
<circle cx="383.17" cy="838.5" r="9.7" fill="#fff"/><circle cx="383.17" cy="838.5" r="5.45" fill="#ff7f0e"/>
<circle cx="386.23" cy="838.5" r="9.7" fill="#fff"/><circle cx="386.23" cy="838.5" r="5.45" fill="#ff7f0e"/>
<circle cx="389.29" cy="838.5" r="9.7" fill="#fff"/><circle cx="389.29" cy="838.5" r="5.45" fill="#ff7f0e"/>
<circle cx="392.34" cy="838.5" r="9.7" fill="#fff"/><circle cx="392.34" cy="838.5" r="5.45" fill="#ff7f0e"/>
<circle cx="395.4" cy="838.5" r="9.7" fill="#fff"/><circle cx="395.4" cy="838.5" r="5.45" fill="#ff7f0e"/>
<circle cx="398.46" cy="838.5" r="9.7" fill="#fff"/><circle cx="398.46" cy="838.5" r="5.45" fill="#ff7f0e"/>
<circle cx="401.51" cy="838.5" r="9.7" fill="#fff"/><circle cx="401.51" cy="838.5" r="5.45" fill="#ff7f0e"/>
<circle cx="404.57" cy="838.5" r="9.7" fill="#fff"/><circle cx="404.57" cy="838.5" r="5.45" fill="#ff7f0e"/>
<circle cx="407.63" cy="838.5" r="9.7" fill="#fff"/><circle cx="407.63" cy="838.5" r="5.45" fill="#ff7f0e"/>
<circle cx="410.69" cy="838.5" r="9.7" fill="#fff"/><circle cx="410.69" cy="838.5" r="5.45" fill="#ff7f0e"/>
<circle cx="413.74" cy="838.5" r="9.7" fill="#fff"/><circle cx="413.74" cy="838.5" r="5.45" fill="#ff7f0e"/>
<circle cx="416.8" cy="838.5" r="9.7" fill="#fff"/><circle cx="416.8" cy="838.5" r="5.45" fill="#ff7f0e"/>
<circle cx="419.86" cy="838.5" r="9.7" fill="#fff"/><circle cx="419.86" cy="838.5" r="5.45" fill="#ff7f0e"/>
<circle cx="422.91" cy="838.5" r="9.7" fill="#fff"/><circle cx="422.91" cy="838.5" r="5.45" fill="#ff7f0e"/>
<circle cx="425.97" cy="838.5" r="9.7" fill="#fff"/><circle cx="425.97" cy="838.5" r="5.45" fill="#ff7f0e"/>
<circle cx="429.03" cy="838.5" r="9.7" fill="#fff"/><circle cx="429.03" cy="838.5" r="5.45" fill="#ff7f0e"/>
<circle cx="432.09" cy="838.5" r="9.7" fill="#fff"/><circle cx="432.09" cy="838.5" r="5.45" fill="#ff7f0e"/>
<circle cx="435.14" cy="838.5" r="9.7" fill="#fff"/><circle cx="435.14" cy="838.5" r="5.45" fill="#ff7f0e"/>
<circle cx="438.2" cy="838.5" r="9.7" fill="#fff"/><circle cx="438.2" cy="838.5" r="5.45" fill="#ff7f0e"/>
<circle cx="441.26" cy="838.5" r="9.7" fill="#fff"/><circle cx="441.26" cy="838.5" r="5.45" fill="#ff7f0e"/>
<circle cx="444.31" cy="838.5" r="9.7" fill="#fff"/><circle cx="444.31" cy="838.5" r="5.45" fill="#ff7f0e"/>
<circle cx="447.37" cy="838.5" r="9.7" fill="#fff"/><circle cx="447.37" cy="838.5" r="5.45" fill="#ff7f0e"/>
<circle cx="450.43" cy="838.5" r="9.7" fill="#fff"/><circle cx="450.43" cy="838.5" r="5.45" fill="#ff7f0e"/>
<circle cx="453.49" cy="838.5" r="9.7" fill="#fff"/><circle cx="453.49" cy="838.5" r="5.45" fill="#ff7f0e"/>
<circle cx="456.54" cy="838.5" r="9.7" fill="#fff"/><circle cx="456.54" cy="838.5" r="5.45" fill="#ff7f0e"/>
<circle cx="459.6" cy="838.5" r="9.7" fill="#fff"/><circle cx="459.6" cy="838.5" r="5.45" fill="#ff7f0e"/>
<circle cx="462.66" cy="838.5" r="9.7" fill="#fff"/><circle cx="462.66" cy="838.5" r="5.45" fill="#ff7f0e"/>
<circle cx="465.71" cy="838.5" r="9.7" fill="#fff"/><circle cx="465.71" cy="838.5" r="5.45" fill="#ff7f0e"/>
<circle cx="468.77" cy="838.5" r="9.7" fill="#fff"/><circle cx="468.77" cy="838.5" r="5.45" fill="#ff7f0e"/>
<circle cx="471.83" cy="838.5" r="9.7" fill="#fff"/><circle cx="471.83" cy="838.5" r="5.45" fill="#ff7f0e"/>
<circle cx="474.89" cy="838.5" r="9.7" fill="#fff"/><circle cx="474.89" cy="838.5" r="5.45" fill="#ff7f0e"/>
<circle cx="477.94" cy="838.5" r="9.7" fill="#fff"/><circle cx="477.94" cy="838.5" r="5.45" fill="#ff7f0e"/>
<circle cx="481" cy="838.5" r="9.7" fill="#fff"/><circle cx="481" cy="838.5" r="5.45" fill="#ff7f0e"/>
<circle cx="484.06" cy="838.5" r="9.7" fill="#fff"/><circle cx="484.06" cy="838.5" r="5.45" fill="#ff7f0e"/>
<circle cx="487.11" cy="838.5" r="9.7" fill="#fff"/><circle cx="487.11" cy="838.5" r="5.45" fill="#ff7f0e"/>
<circle cx="490.17" cy="838.5" r="9.7" fill="#fff"/><circle cx="490.17" cy="838.5" r="5.45" fill="#ff7f0e"/>
<circle cx="493.23" cy="838.5" r="9.7" fill="#fff"/><circle cx="493.23" cy="838.5" r="5.45" fill="#ff7f0e"/>
<circle cx="496.29" cy="838.5" r="9.7" fill="#fff"/><circle cx="496.29" cy="838.5" r="5.45" fill="#ff7f0e"/>
<circle cx="499.34" cy="838.5" r="9.7" fill="#fff"/><circle cx="499.34" cy="838.5" r="5.45" fill="#ff7f0e"/>
<circle cx="502.4" cy="838.5" r="9.7" fill="#fff"/><circle cx="502.4" cy="838.5" r="5.45" fill="#ff7f0e"/>
<circle cx="505.46" cy="838.5" r="9.7" fill="#fff"/><circle cx="505.46" cy="838.5" r="5.45" fill="#ff7f0e"/>
<circle cx="508.51" cy="838.5" r="9.7" fill="#fff"/><circle cx="508.51" cy="838.5" r="5.45" fill="#ff7f0e"/>
<circle cx="511.57" cy="838.5" r="9.7" fill="#fff"/><circle cx="511.57" cy="838.5" r="5.45" fill="#ff7f0e"/>
<circle cx="514.63" cy="838.5" r="9.7" fill="#fff"/><circle cx="514.63" cy="838.5" r="5.45" fill="#ff7f0e"/>
<circle cx="517.69" cy="838.5" r="9.7" fill="#fff"/><circle cx="517.69" cy="838.5" r="5.45" fill="#ff7f0e"/>
<circle cx="520.74" cy="838.5" r="9.7" fill="#fff"/><circle cx="520.74" cy="838.5" r="5.45" fill="#ff7f0e"/>
<circle cx="523.8" cy="838.5" r="9.7" fill="#fff"/><circle cx="523.8" cy="838.5" r="5.45" fill="#ff7f0e"/>
<circle cx="526.86" cy="838.5" r="9.7" fill="#fff"/><circle cx="526.86" cy="838.5" r="5.45" fill="#ff7f0e"/>
<circle cx="529.91" cy="838.5" r="9.7" fill="#fff"/><circle cx="529.91" cy="838.5" r="5.45" fill="#ff7f0e"/>
<circle cx="532.97" cy="838.5" r="9.7" fill="#fff"/><circle cx="532.97" cy="838.5" r="5.45" fill="#ff7f0e"/>
<circle cx="536.03" cy="838.5" r="9.7" fill="#fff"/><circle cx="536.03" cy="838.5" r="5.45" fill="#ff7f0e"/>
<circle cx="539.09" cy="838.5" r="9.7" fill="#fff"/><circle cx="539.09" cy="838.5" r="5.45" fill="#ff7f0e"/>
<circle cx="542.14" cy="838.5" r="9.7" fill="#fff"/><circle cx="542.14" cy="838.5" r="5.45" fill="#ff7f0e"/>
<circle cx="545.2" cy="838.5" r="9.7" fill="#fff"/><circle cx="545.2" cy="838.5" r="5.45" fill="#ff7f0e"/>
<circle cx="548.26" cy="838.5" r="9.7" fill="#fff"/><circle cx="548.26" cy="838.5" r="5.45" fill="#ff7f0e"/>
<circle cx="551.31" cy="838.5" r="9.7" fill="#fff"/><circle cx="551.31" cy="838.5" r="5.45" fill="#ff7f0e"/>
<circle cx="554.37" cy="838.5" r="9.7" fill="#fff"/><circle cx="554.37" cy="838.5" r="5.45" fill="#ff7f0e"/>
<circle cx="557.43" cy="838.5" r="9.7" fill="#fff"/><circle cx="557.43" cy="838.5" r="5.45" fill="#ff7f0e"/>
<circle cx="560.49" cy="838.5" r="9.7" fill="#fff"/><circle cx="560.49" cy="838.5" r="5.45" fill="#ff7f0e"/>
<circle cx="563.54" cy="838.5" r="9.7" fill="#fff"/><circle cx="563.54" cy="838.5" r="5.45" fill="#ff7f0e"/>
<circle cx="566.6" cy="838.5" r="9.7" fill="#fff"/><circle cx="566.6" cy="838.5" r="5.45" fill="#ff7f0e"/>
<circle cx="569.66" cy="838.5" r="9.7" fill="#fff"/><circle cx="569.66" cy="838.5" r="5.45" fill="#ff7f0e"/>
<circle cx="572.71" cy="838.5" r="9.7" fill="#fff"/><circle cx="572.71" cy="838.5" r="5.45" fill="#ff7f0e"/>
<circle cx="575.77" cy="838.5" r="9.7" fill="#fff"/><circle cx="575.77" cy="838.5" r="5.45" fill="#ff7f0e"/>
<circle cx="578.83" cy="838.5" r="9.7" fill="#fff"/><circle cx="578.83" cy="838.5" r="5.45" fill="#ff7f0e"/>
<circle cx="581.89" cy="838.5" r="9.7" fill="#fff"/><circle cx="581.89" cy="838.5" r="5.45" fill="#ff7f0e"/>
<circle cx="584.94" cy="838.5" r="9.7" fill="#fff"/><circle cx="584.94" cy="838.5" r="5.45" fill="#ff7f0e"/>
<circle cx="588" cy="838.5" r="9.7" fill="#fff"/><circle cx="588" cy="838.5" r="5.45" fill="#ff7f0e"/>
<circle cx="591.06" cy="838.5" r="9.7" fill="#fff"/><circle cx="591.06" cy="838.5" r="5.45" fill="#ff7f0e"/>
<circle cx="594.11" cy="838.5" r="9.7" fill="#fff"/><circle cx="594.11" cy="838.5" r="5.45" fill="#ff7f0e"/>
<circle cx="597.17" cy="838.5" r="9.7" fill="#fff"/><circle cx="597.17" cy="838.5" r="5.45" fill="#ff7f0e"/>
<circle cx="600.23" cy="838.5" r="9.7" fill="#fff"/><circle cx="600.23" cy="838.5" r="5.45" fill="#ff7f0e"/>
<circle cx="603.29" cy="838.5" r="9.7" fill="#fff"/><circle cx="603.29" cy="838.5" r="5.45" fill="#ff7f0e"/>
<circle cx="606.34" cy="838.5" r="9.7" fill="#fff"/><circle cx="606.34" cy="838.5" r="5.45" fill="#ff7f0e"/>
<circle cx="609.4" cy="838.5" r="9.7" fill="#fff"/><circle cx="609.4" cy="838.5" r="5.45" fill="#ff7f0e"/>
<circle cx="612.46" cy="838.5" r="9.7" fill="#fff"/><circle cx="612.46" cy="838.5" r="5.45" fill="#ff7f0e"/>
<circle cx="615.51" cy="838.5" r="9.7" fill="#fff"/><circle cx="615.51" cy="838.5" r="5.45" fill="#ff7f0e"/>
<circle cx="618.57" cy="838.5" r="9.7" fill="#fff"/><circle cx="618.57" cy="838.5" r="5.45" fill="#ff7f0e"/>
<circle cx="621.63" cy="838.5" r="9.7" fill="#fff"/><circle cx="621.63" cy="838.5" r="5.45" fill="#ff7f0e"/>
<circle cx="624.69" cy="838.5" r="9.7" fill="#fff"/><circle cx="624.69" cy="838.5" r="5.45" fill="#ff7f0e"/>
<circle cx="627.74" cy="838.5" r="9.7" fill="#fff"/><circle cx="627.74" cy="838.5" r="5.45" fill="#ff7f0e"/>
<circle cx="630.8" cy="838.5" r="9.7" fill="#fff"/><circle cx="630.8" cy="838.5" r="5.45" fill="#ff7f0e"/>
<circle cx="633.86" cy="838.5" r="9.7" fill="#fff"/><circle cx="633.86" cy="838.5" r="5.45" fill="#ff7f0e"/>
<circle cx="636.91" cy="838.5" r="9.7" fill="#fff"/><circle cx="636.91" cy="838.5" r="5.45" fill="#ff7f0e"/>
<circle cx="639.97" cy="838.5" r="9.7" fill="#fff"/><circle cx="639.97" cy="838.5" r="5.45" fill="#ff7f0e"/>
<circle cx="643.03" cy="838.5" r="9.7" fill="#fff"/><circle cx="643.03" cy="838.5" r="5.45" fill="#ff7f0e"/>
<circle cx="646.09" cy="838.5" r="9.7" fill="#fff"/><circle cx="646.09" cy="838.5" r="5.45" fill="#ff7f0e"/>
<circle cx="649.14" cy="838.5" r="9.7" fill="#fff"/><circle cx="649.14" cy="838.5" r="5.45" fill="#ff7f0e"/>
<circle cx="652.2" cy="838.5" r="9.7" fill="#fff"/><circle cx="652.2" cy="838.5" r="5.45" fill="#ff7f0e"/>
<circle cx="655.26" cy="838.5" r="9.7" fill="#fff"/><circle cx="655.26" cy="838.5" r="5.45" fill="#ff7f0e"/>
<circle cx="658.31" cy="838.5" r="9.7" fill="#fff"/><circle cx="658.31" cy="838.5" r="5.45" fill="#ff7f0e"/>
<circle cx="661.37" cy="838.5" r="9.7" fill="#fff"/><circle cx="661.37" cy="838.5" r="5.45" fill="#ff7f0e"/>
<circle cx="664.43" cy="838.5" r="9.7" fill="#fff"/><circle cx="664.43" cy="838.5" r="5.45" fill="#ff7f0e"/>
<circle cx="667.49" cy="838.5" r="9.7" fill="#fff"/><circle cx="667.49" cy="838.5" r="5.45" fill="#ff7f0e"/>
<circle cx="670.54" cy="838.5" r="9.7" fill="#fff"/><circle cx="670.54" cy="838.5" r="5.45" fill="#ff7f0e"/>
<circle cx="673.6" cy="838.5" r="9.7" fill="#fff"/><circle cx="673.6" cy="838.5" r="5.45" fill="#ff7f0e"/>
<circle cx="676.66" cy="838.5" r="9.7" fill="#fff"/><circle cx="676.66" cy="838.5" r="5.45" fill="#ff7f0e"/>
<circle cx="679.71" cy="838.5" r="9.7" fill="#fff"/><circle cx="679.71" cy="838.5" r="5.45" fill="#ff7f0e"/>
<circle cx="682.77" cy="838.5" r="9.7" fill="#fff"/><circle cx="682.77" cy="838.5" r="5.45" fill="#ff7f0e"/>
<circle cx="685.83" cy="838.5" r="9.7" fill="#fff"/><circle cx="685.83" cy="838.5" r="5.45" fill="#ff7f0e"/>
<circle cx="688.89" cy="838.5" r="9.7" fill="#fff"/><circle cx="688.89" cy="838.5" r="5.45" fill="#ff7f0e"/>
<circle cx="691.94" cy="838.5" r="9.7" fill="#fff"/><circle cx="691.94" cy="838.5" r="5.45" fill="#ff7f0e"/>
<circle cx="695" cy="838.5" r="9.7" fill="#fff"/><circle cx="695" cy="838.5" r="5.45" fill="#ff7f0e"/>
<circle cx="698.06" cy="838.5" r="9.7" fill="#fff"/><circle cx="698.06" cy="838.5" r="5.45" fill="#ff7f0e"/>
<circle cx="701.11" cy="838.5" r="9.7" fill="#fff"/><circle cx="701.11" cy="838.5" r="5.45" fill="#ff7f0e"/>
<circle cx="704.17" cy="838.5" r="9.7" fill="#fff"/><circle cx="704.17" cy="838.5" r="5.45" fill="#ff7f0e"/>
<circle cx="707.23" cy="838.5" r="9.7" fill="#fff"/><circle cx="707.23" cy="838.5" r="5.45" fill="#ff7f0e"/>
<circle cx="710.29" cy="838.5" r="9.7" fill="#fff"/><circle cx="710.29" cy="838.5" r="5.45" fill="#ff7f0e"/>
<circle cx="713.34" cy="838.5" r="9.7" fill="#fff"/><circle cx="713.34" cy="838.5" r="5.45" fill="#ff7f0e"/>
<circle cx="716.4" cy="838.5" r="9.7" fill="#fff"/><circle cx="716.4" cy="838.5" r="5.45" fill="#ff7f0e"/>
<circle cx="719.46" cy="838.5" r="9.7" fill="#fff"/><circle cx="719.46" cy="838.5" r="5.45" fill="#ff7f0e"/>
<circle cx="722.51" cy="838.5" r="9.7" fill="#fff"/><circle cx="722.51" cy="838.5" r="5.45" fill="#ff7f0e"/>
<circle cx="725.57" cy="838.5" r="9.7" fill="#fff"/><circle cx="725.57" cy="838.5" r="5.45" fill="#ff7f0e"/>
<circle cx="728.63" cy="838.5" r="9.7" fill="#fff"/><circle cx="728.63" cy="838.5" r="5.45" fill="#ff7f0e"/>
<circle cx="731.69" cy="838.5" r="9.7" fill="#fff"/><circle cx="731.69" cy="838.5" r="5.45" fill="#ff7f0e"/>
<circle cx="734.74" cy="838.5" r="9.7" fill="#fff"/><circle cx="734.74" cy="838.5" r="5.45" fill="#ff7f0e"/>
<circle cx="737.8" cy="838.5" r="9.7" fill="#fff"/><circle cx="737.8" cy="838.5" r="5.45" fill="#ff7f0e"/>
<circle cx="740.86" cy="838.5" r="9.7" fill="#fff"/><circle cx="740.86" cy="838.5" r="5.45" fill="#ff7f0e"/>
<circle cx="743.91" cy="838.5" r="9.7" fill="#fff"/><circle cx="743.91" cy="838.5" r="5.45" fill="#ff7f0e"/>
<circle cx="746.97" cy="838.5" r="9.7" fill="#fff"/><circle cx="746.97" cy="838.5" r="5.45" fill="#ff7f0e"/>
<circle cx="750.03" cy="838.5" r="9.7" fill="#fff"/><circle cx="750.03" cy="838.5" r="5.45" fill="#ff7f0e"/>
<circle cx="753.09" cy="838.5" r="9.7" fill="#fff"/><circle cx="753.09" cy="838.5" r="5.45" fill="#ff7f0e"/>
<circle cx="756.14" cy="838.5" r="9.7" fill="#fff"/><circle cx="756.14" cy="838.5" r="5.45" fill="#ff7f0e"/>
<circle cx="759.2" cy="838.5" r="9.7" fill="#fff"/><circle cx="759.2" cy="838.5" r="5.45" fill="#ff7f0e"/>
<circle cx="762.26" cy="838.5" r="9.7" fill="#fff"/><circle cx="762.26" cy="838.5" r="5.45" fill="#ff7f0e"/>
<circle cx="765.31" cy="838.5" r="9.7" fill="#fff"/><circle cx="765.31" cy="838.5" r="5.45" fill="#ff7f0e"/>
<circle cx="768.37" cy="838.5" r="9.7" fill="#fff"/><circle cx="768.37" cy="838.5" r="5.45" fill="#ff7f0e"/>
<circle cx="771.43" cy="838.5" r="9.7" fill="#fff"/><circle cx="771.43" cy="838.5" r="5.45" fill="#ff7f0e"/>
<circle cx="774.49" cy="838.5" r="9.7" fill="#fff"/><circle cx="774.49" cy="838.5" r="5.45" fill="#ff7f0e"/>
<circle cx="777.54" cy="838.5" r="9.7" fill="#fff"/><circle cx="777.54" cy="838.5" r="5.45" fill="#ff7f0e"/>
<circle cx="780.6" cy="838.5" r="9.7" fill="#fff"/><circle cx="780.6" cy="838.5" r="5.45" fill="#ff7f0e"/>
<circle cx="783.66" cy="838.5" r="9.7" fill="#fff"/><circle cx="783.66" cy="838.5" r="5.45" fill="#ff7f0e"/>
<circle cx="786.71" cy="838.5" r="9.7" fill="#fff"/><circle cx="786.71" cy="838.5" r="5.45" fill="#ff7f0e"/>
<circle cx="789.77" cy="838.5" r="9.7" fill="#fff"/><circle cx="789.77" cy="838.5" r="5.45" fill="#ff7f0e"/>
<circle cx="792.83" cy="838.5" r="9.7" fill="#fff"/><circle cx="792.83" cy="838.5" r="5.45" fill="#ff7f0e"/>
<circle cx="795.89" cy="838.5" r="9.7" fill="#fff"/><circle cx="795.89" cy="838.5" r="5.45" fill="#ff7f0e"/>
<circle cx="798.94" cy="838.5" r="9.7" fill="#fff"/><circle cx="798.94" cy="838.5" r="5.45" fill="#ff7f0e"/>
<circle cx="802" cy="838.5" r="9.7" fill="#fff"/><circle cx="802" cy="838.5" r="5.45" fill="#ff7f0e"/>
<circle cx="805.06" cy="838.5" r="9.7" fill="#fff"/><circle cx="805.06" cy="838.5" r="5.45" fill="#ff7f0e"/>
<circle cx="808.11" cy="838.5" r="9.7" fill="#fff"/><circle cx="808.11" cy="838.5" r="5.45" fill="#ff7f0e"/>
<circle cx="811.17" cy="838.5" r="9.7" fill="#fff"/><circle cx="811.17" cy="838.5" r="5.45" fill="#ff7f0e"/>
<circle cx="814.23" cy="838.5" r="9.7" fill="#fff"/><circle cx="814.23" cy="838.5" r="5.45" fill="#ff7f0e"/>
<circle cx="817.29" cy="838.5" r="9.7" fill="#fff"/><circle cx="817.29" cy="838.5" r="5.45" fill="#ff7f0e"/>
<circle cx="820.34" cy="838.5" r="9.7" fill="#fff"/><circle cx="820.34" cy="838.5" r="5.45" fill="#ff7f0e"/>
<circle cx="823.4" cy="838.5" r="9.7" fill="#fff"/><circle cx="823.4" cy="838.5" r="5.45" fill="#ff7f0e"/>
<circle cx="826.46" cy="838.5" r="9.7" fill="#fff"/><circle cx="826.46" cy="838.5" r="5.45" fill="#ff7f0e"/>
<circle cx="829.51" cy="838.5" r="9.7" fill="#fff"/><circle cx="829.51" cy="838.5" r="5.45" fill="#ff7f0e"/>
<circle cx="832.57" cy="838.5" r="9.7" fill="#fff"/><circle cx="832.57" cy="838.5" r="5.45" fill="#ff7f0e"/>
<circle cx="835.63" cy="838.5" r="9.7" fill="#fff"/><circle cx="835.63" cy="838.5" r="5.45" fill="#ff7f0e"/>
<circle cx="838.69" cy="838.5" r="9.7" fill="#fff"/><circle cx="838.69" cy="838.5" r="5.45" fill="#ff7f0e"/>
<circle cx="841.74" cy="838.5" r="9.7" fill="#fff"/><circle cx="841.74" cy="838.5" r="5.45" fill="#ff7f0e"/>
<circle cx="844.8" cy="838.5" r="9.7" fill="#fff"/><circle cx="844.8" cy="838.5" r="5.45" fill="#ff7f0e"/>
<circle cx="847.86" cy="838.5" r="9.7" fill="#fff"/><circle cx="847.86" cy="838.5" r="5.45" fill="#ff7f0e"/>
<circle cx="850.91" cy="838.5" r="9.7" fill="#fff"/><circle cx="850.91" cy="838.5" r="5.45" fill="#ff7f0e"/>
<circle cx="853.97" cy="838.5" r="9.7" fill="#fff"/><circle cx="853.97" cy="838.5" r="5.45" fill="#ff7f0e"/>
<circle cx="857.03" cy="838.5" r="9.7" fill="#fff"/><circle cx="857.03" cy="838.5" r="5.45" fill="#ff7f0e"/>
<circle cx="860.09" cy="838.5" r="9.7" fill="#fff"/><circle cx="860.09" cy="838.5" r="5.45" fill="#ff7f0e"/>
<circle cx="863.14" cy="838.5" r="9.7" fill="#fff"/><circle cx="863.14" cy="838.5" r="5.45" fill="#ff7f0e"/>
<circle cx="866.2" cy="838.5" r="9.7" fill="#fff"/><circle cx="866.2" cy="838.5" r="5.45" fill="#ff7f0e"/>
<circle cx="869.26" cy="838.5" r="9.7" fill="#fff"/><circle cx="869.26" cy="838.5" r="5.45" fill="#ff7f0e"/>
<circle cx="872.31" cy="838.5" r="9.7" fill="#fff"/><circle cx="872.31" cy="838.5" r="5.45" fill="#ff7f0e"/>
<circle cx="875.37" cy="838.5" r="9.7" fill="#fff"/><circle cx="875.37" cy="838.5" r="5.45" fill="#ff7f0e"/>
<circle cx="878.43" cy="838.5" r="9.7" fill="#fff"/><circle cx="878.43" cy="838.5" r="5.45" fill="#ff7f0e"/>
<circle cx="881.49" cy="838.5" r="9.7" fill="#fff"/><circle cx="881.49" cy="838.5" r="5.45" fill="#ff7f0e"/>
<circle cx="884.54" cy="838.5" r="9.7" fill="#fff"/><circle cx="884.54" cy="838.5" r="5.45" fill="#ff7f0e"/>
<circle cx="887.6" cy="838.5" r="9.7" fill="#fff"/><circle cx="887.6" cy="838.5" r="5.45" fill="#ff7f0e"/>
<circle cx="890.66" cy="838.5" r="9.7" fill="#fff"/><circle cx="890.66" cy="838.5" r="5.45" fill="#ff7f0e"/>
<circle cx="893.71" cy="838.5" r="9.7" fill="#fff"/><circle cx="893.71" cy="838.5" r="5.45" fill="#ff7f0e"/>
<circle cx="896.77" cy="838.5" r="9.7" fill="#fff"/><circle cx="896.77" cy="838.5" r="5.45" fill="#ff7f0e"/>
<circle cx="899.83" cy="838.5" r="9.7" fill="#fff"/><circle cx="899.83" cy="838.5" r="5.45" fill="#ff7f0e"/>
<circle cx="902.89" cy="838.5" r="9.7" fill="#fff"/><circle cx="902.89" cy="838.5" r="5.45" fill="#ff7f0e"/>
<circle cx="905.94" cy="838.5" r="9.7" fill="#fff"/><circle cx="905.94" cy="838.5" r="5.45" fill="#ff7f0e"/>
<circle cx="909" cy="838.5" r="9.7" fill="#fff"/><circle cx="909" cy="838.5" r="5.45" fill="#ff7f0e"/>
<circle cx="912.06" cy="838.5" r="9.7" fill="#fff"/><circle cx="912.06" cy="838.5" r="5.45" fill="#ff7f0e"/>
<circle cx="915.11" cy="838.5" r="9.7" fill="#fff"/><circle cx="915.11" cy="838.5" r="5.45" fill="#ff7f0e"/>
<circle cx="918.17" cy="838.5" r="9.7" fill="#fff"/><circle cx="918.17" cy="838.5" r="5.45" fill="#ff7f0e"/>
<circle cx="921.23" cy="838.5" r="9.7" fill="#fff"/><circle cx="921.23" cy="838.5" r="5.45" fill="#ff7f0e"/>
<circle cx="924.29" cy="838.5" r="9.7" fill="#fff"/><circle cx="924.29" cy="838.5" r="5.45" fill="#ff7f0e"/>
<circle cx="927.34" cy="838.5" r="9.7" fill="#fff"/><circle cx="927.34" cy="838.5" r="5.45" fill="#ff7f0e"/>
<circle cx="930.4" cy="838.5" r="9.7" fill="#fff"/><circle cx="930.4" cy="838.5" r="5.45" fill="#ff7f0e"/>
<circle cx="933.46" cy="838.5" r="9.7" fill="#fff"/><circle cx="933.46" cy="838.5" r="5.45" fill="#ff7f0e"/>
<circle cx="936.51" cy="838.5" r="9.7" fill="#fff"/><circle cx="936.51" cy="838.5" r="5.45" fill="#ff7f0e"/>
<circle cx="939.57" cy="838.5" r="9.7" fill="#fff"/><circle cx="939.57" cy="838.5" r="5.45" fill="#ff7f0e"/>
<circle cx="942.63" cy="838.5" r="9.7" fill="#fff"/><circle cx="942.63" cy="838.5" r="5.45" fill="#ff7f0e"/>
<circle cx="945.69" cy="838.5" r="9.7" fill="#fff"/><circle cx="945.69" cy="838.5" r="5.45" fill="#ff7f0e"/>
<circle cx="948.74" cy="838.5" r="9.7" fill="#fff"/><circle cx="948.74" cy="838.5" r="5.45" fill="#ff7f0e"/>
<circle cx="951.8" cy="838.5" r="9.7" fill="#fff"/><circle cx="951.8" cy="838.5" r="5.45" fill="#ff7f0e"/>
<circle cx="954.86" cy="838.5" r="9.7" fill="#fff"/><circle cx="954.86" cy="838.5" r="5.45" fill="#ff7f0e"/>
<circle cx="957.91" cy="838.5" r="9.7" fill="#fff"/><circle cx="957.91" cy="838.5" r="5.45" fill="#ff7f0e"/>
<circle cx="960.97" cy="838.5" r="9.7" fill="#fff"/><circle cx="960.97" cy="838.5" r="5.45" fill="#ff7f0e"/>
<circle cx="964.03" cy="838.5" r="9.7" fill="#fff"/><circle cx="964.03" cy="838.5" r="5.45" fill="#ff7f0e"/>
<circle cx="967.09" cy="838.5" r="9.7" fill="#fff"/><circle cx="967.09" cy="838.5" r="5.45" fill="#ff7f0e"/>
<circle cx="970.14" cy="838.5" r="9.7" fill="#fff"/><circle cx="970.14" cy="838.5" r="5.45" fill="#ff7f0e"/>
<circle cx="973.2" cy="838.5" r="9.7" fill="#fff"/><circle cx="973.2" cy="838.5" r="5.45" fill="#ff7f0e"/>
<circle cx="976.26" cy="838.5" r="9.7" fill="#fff"/><circle cx="976.26" cy="838.5" r="5.45" fill="#ff7f0e"/>
<circle cx="979.31" cy="838.5" r="9.7" fill="#fff"/><circle cx="979.31" cy="838.5" r="5.45" fill="#ff7f0e"/>
<circle cx="982.37" cy="838.5" r="9.7" fill="#fff"/><circle cx="982.37" cy="838.5" r="5.45" fill="#ff7f0e"/>
<circle cx="985.43" cy="838.5" r="9.7" fill="#fff"/><circle cx="985.43" cy="838.5" r="5.45" fill="#ff7f0e"/>
<circle cx="988.49" cy="838.5" r="9.7" fill="#fff"/><circle cx="988.49" cy="838.5" r="5.45" fill="#ff7f0e"/>
<circle cx="991.54" cy="838.5" r="9.7" fill="#fff"/><circle cx="991.54" cy="838.5" r="5.45" fill="#ff7f0e"/>
<circle cx="994.6" cy="838.5" r="9.7" fill="#fff"/><circle cx="994.6" cy="838.5" r="5.45" fill="#ff7f0e"/>
<circle cx="997.66" cy="838.5" r="9.7" fill="#fff"/><circle cx="997.66" cy="838.5" r="5.45" fill="#ff7f0e"/>
<circle cx="1000.71" cy="838.5" r="9.7" fill="#fff"/><circle cx="1000.71" cy="838.5" r="5.45" fill="#ff7f0e"/>
<circle cx="1003.77" cy="838.5" r="9.7" fill="#fff"/><circle cx="1003.77" cy="838.5" r="5.45" fill="#ff7f0e"/>
<circle cx="1006.83" cy="838.5" r="9.7" fill="#fff"/><circle cx="1006.83" cy="838.5" r="5.45" fill="#ff7f0e"/>
<circle cx="1009.89" cy="838.5" r="9.7" fill="#fff"/><circle cx="1009.89" cy="838.5" r="5.45" fill="#ff7f0e"/>
<circle cx="1012.94" cy="838.5" r="9.7" fill="#fff"/><circle cx="1012.94" cy="838.5" r="5.45" fill="#ff7f0e"/>
<circle cx="1016" cy="838.5" r="9.7" fill="#fff"/><circle cx="1016" cy="838.5" r="5.45" fill="#ff7f0e"/>
<circle cx="1019.06" cy="838.5" r="9.7" fill="#fff"/><circle cx="1019.06" cy="838.5" r="5.45" fill="#ff7f0e"/>
<circle cx="1022.11" cy="838.5" r="9.7" fill="#fff"/><circle cx="1022.11" cy="838.5" r="5.45" fill="#ff7f0e"/>
<circle cx="1025.17" cy="838.5" r="9.7" fill="#fff"/><circle cx="1025.17" cy="838.5" r="5.45" fill="#ff7f0e"/>
<circle cx="1028.23" cy="838.5" r="9.7" fill="#fff"/><circle cx="1028.23" cy="838.5" r="5.45" fill="#ff7f0e"/>
<circle cx="1031.29" cy="838.5" r="9.7" fill="#fff"/><circle cx="1031.29" cy="838.5" r="5.45" fill="#ff7f0e"/>
<circle cx="1034.34" cy="838.5" r="9.7" fill="#fff"/><circle cx="1034.34" cy="838.5" r="5.45" fill="#ff7f0e"/>
<circle cx="1037.4" cy="838.5" r="9.7" fill="#fff"/><circle cx="1037.4" cy="838.5" r="5.45" fill="#ff7f0e"/>
<circle cx="1040.46" cy="838.5" r="9.7" fill="#fff"/><circle cx="1040.46" cy="838.5" r="5.45" fill="#ff7f0e"/>
<circle cx="1043.51" cy="838.5" r="9.7" fill="#fff"/><circle cx="1043.51" cy="838.5" r="5.45" fill="#ff7f0e"/>
<circle cx="1046.57" cy="838.5" r="9.7" fill="#fff"/><circle cx="1046.57" cy="838.5" r="5.45" fill="#ff7f0e"/>
<circle cx="1049.63" cy="838.5" r="9.7" fill="#fff"/><circle cx="1049.63" cy="838.5" r="5.45" fill="#ff7f0e"/>
<circle cx="1052.69" cy="838.5" r="9.7" fill="#fff"/><circle cx="1052.69" cy="838.5" r="5.45" fill="#ff7f0e"/>
<circle cx="1055.5" cy="838.5" r="9.7" fill="#fff"/><circle cx="1055.5" cy="838.5" r="5.45" fill="#ff7f0e"/>
</g>
<g>
<text y="117.9" font-size="16.6" xml:space="preserve"><tspan x="968.09" textLength="14.37" lengthAdjust="spacingAndGlyphs">IP</tspan> <tspan x="987.54" textLength="43.25" lengthAdjust="spacingAndGlyphs">(!TCP</tspan>  <tspan x="1040.96" textLength="46.34" lengthAdjust="spacingAndGlyphs">!UDP)</tspan></text>
<path d="M1097.3 112.4H1145.6" stroke="#2ca02c" stroke-width="2" fill="none"/>
<path d="M95.8 835.6 L98.86 839 L101.91 834.7 L104.97 838.3 L108.03 834.7 L111.09 838.3 L114.14 834.7 L117.2 838.3 L120.26 834.7 L123.31 838.3 L126.37 834.7 L129.43 838.3 L132.49 838.3 L135.54 838.3 L138.6 838.3 L141.66 838.3 L144.71 838.3 L147.77 838.3 L150.83 838.3 L153.89 838.3 L156.94 838.3 L160 838.3 L163.06 838.3 L166.11 838.3 L169.17 838.3 L172.23 838.3 L175.29 838.3 L178.34 838.3 L181.4 838.3 L184.46 838.3 L187.51 838.3 L190.57 838.3 L193.63 838.3 L196.69 838.3 L199.74 838.3 L202.8 838.3 L205.86 838.3 L208.91 838.3 L211.97 838.3 L215.44 838.5 L218.49 499.4 L221.5 205.4 L224.44 342.4 L227.39 819.2 L230.31 837.8 L233.49 838.5 L236.44 539.4 L239.49 211.4 L242.5 195.4 L245.6 241.4 L248.66 213.4 L251.71 237 L254.5 211.4 L257.47 234.5 L260.56 340.4 L264.4 814.4 L267 259.2 L270.06 186.5 L273.5 194.5 L276.44 351.4 L279.44 815.3 L282.44 405.3 L285.34 210.6 L288.4 185.5 L291.5 217.5 L294.51 193.6 L297.57 197.2 L300.63 194.6 L303.69 197.5 L306.74 189.5 L309.8 184 L312.86 172.4 L316.5 142.4 L318.97 181.9 L322.03 185.8 L325.09 181.9 L328.14 186.1 L331.2 185.3 L334.26 180.5 L337.31 186.4 L340.37 216.5 L343.28 186.5 L346.49 171.4 L349.54 159.4 L352.6 176.5 L355.66 181.5 L358.71 181.5 L361.77 153.4 L364.5 146.4 L367.89 163.4 L370.94 176.4 L374 169.8 L377.06 173 L380.5 158.4 L383.17 176.5 L386.23 180.8 L389.29 180.3 L392.34 179.8 L395.4 178.45 L398.46 172.6 L401.4 157.4 L404.57 176 L407.63 174.7 L410.55 111.4 L413.74 173.86 L416.8 160.1 L419.86 173.4 L423.4 195.6 L426.5 148.4 L429.03 176.5 L432.09 171.35 L435.14 162.6 L438.2 176.5 L441.26 168.9 L444.31 173.4 L447.37 168.4 L450.43 158 L453.49 167.6 L456.54 176.4 L459.6 159.2 L462.66 181.4 L465.71 166.8 L468.77 157.3 L471.83 177.6 L474.89 166.3 L477.94 163 L481 165.2 L484.06 168.85 L487.11 176.2 L490.17 160.66 L493.23 179.46 L496.29 149.5 L499.34 173.4 L502.4 174.7 L505.46 153.2 L508.51 166.5 L511.57 164.7 L514.63 179.6 L517.69 176.5 L520.74 162.7 L523.8 166.76 L526.86 156.5 L529.91 168 L532.97 165.9 L536.03 174.7 L539.09 166 L542.14 166.5 L545.2 166.8 L548.26 162.4 L551.31 173.44 L554.37 159.5 L557.43 160.1 L560.49 168.85 L563.54 158.4 L566.6 178.45 L569.66 165.5 L572.71 175.5 L575.77 161.5 L578.83 173.8 L581.89 171.5 L584.94 149.47 L588 174.5 L591.06 174.7 L594.11 159.66 L597.17 175.5 L600.23 174.5 L603.29 157.4 L606.34 168 L609.4 166.3 L612.46 161.75 L615.51 191.57 L618.57 159.4 L621.63 180.5 L624.69 168 L627.74 165.2 L630.8 168.7 L633.86 154.5 L636.91 174 L639.97 174.5 L643.03 164.75 L646.09 170.1 L649.14 162.16 L652.2 168.85 L655.26 164.5 L658.31 179.3 L661.37 152.4 L664.43 180.5 L667.49 158.4 L670.54 167.6 L673.6 172 L676.66 171.3 L679.71 167.6 L682.77 178.45 L685.83 157.3 L688.89 168 L691.94 168.6 L695 156.3 L698.06 181.55 L701.11 156.3 L704.17 174.7 L707.23 170.2 L710.29 167.3 L713.34 168 L716.4 176.4 L719.46 156.5 L722.51 172.36 L725.57 150.47 L728.63 178.3 L731.69 157.4 L734.74 181.55 L737.8 168 L740.86 163.4 L743.91 178.45 L746.97 168.85 L750.03 159.24 L753.09 174.3 L756.14 155.5 L759.2 178.45 L762.26 168.6 L765.31 168 L768.37 171.77 L771.43 159.66 L774.49 173.44 L777.54 155.5 L780.6 171.77 L783.66 162.3 L786.71 172.5 L789.77 171.6 L792.83 164.5 L795.89 169.5 L799.47 146.46 L802 174.5 L805.06 161.6 L808.5 200.4 L811.17 170.7 L814.23 160.9 L817.29 182.6 L820.34 158.65 L823.4 164.67 L826.46 173.44 L829.51 157.6 L832.57 176.4 L835.63 160.5 L838.69 178.45 L841.74 164.25 L844.8 172.36 L847.86 165 L850.91 165.76 L853.97 178.45 L857.03 167.55 L860.09 166 L863.14 163.8 L866.2 175 L869.26 174.2 L872.31 170.7 L875.37 162.3 L878.43 167 L881.49 166.3 L884.54 173.2 L887.6 169.9 L890.66 170.1 L893.71 163.2 L896.77 159.5 L899.83 175 L902.89 173.6 L905.94 159.7 L909 158.4 L912.06 177.6 L915.11 162 L918.17 159.5 L921.23 169.6 L924.29 171 L927.34 171.77 L930.4 162.16 L933.46 175.5 L936.51 159.6 L939.57 177 L942.63 179.3 L945.69 151.4 L948.74 177.2 L951.8 164 L954.86 178.6 L957.91 153.8 L960.97 175.7 L964.5 151.3 L967.09 178.9 L970.14 165.5 L973.2 176.4 L976.26 163 L979.31 169.8 L982.37 173.44 L985.43 158.4 L988.49 176.4 L991.54 154.5 L994.6 176 L997.66 175.5 L1000.71 164.5 L1003.44 190.4 L1006.83 164.5 L1009.89 166 L1012.94 167.2 L1016 152.4 L1019.06 174.7 L1022.11 160.3 L1025.17 177.4 L1028.23 172.36 L1031.29 163.7 L1034.34 168 L1037.4 168 L1040.46 165.5 L1043.51 172.6 L1046.57 164.5 L1049.63 162.3 L1052.69 177.4 L1055.24 170.35" stroke="#2ca02c" stroke-width="2" fill="none" stroke-linejoin="round" stroke-linecap="butt"/>
<circle cx="1121.4" cy="112.4" r="9.7" fill="#fff"/><circle cx="1121.4" cy="112.4" r="5.45" fill="#2ca02c"/>
<circle cx="95.8" cy="835.6" r="9.7" fill="#fff"/><circle cx="95.8" cy="835.6" r="5.45" fill="#2ca02c"/>
<circle cx="98.86" cy="839" r="9.7" fill="#fff"/><circle cx="98.86" cy="839" r="5.45" fill="#2ca02c"/>
<circle cx="101.91" cy="834.7" r="9.7" fill="#fff"/><circle cx="101.91" cy="834.7" r="5.45" fill="#2ca02c"/>
<circle cx="104.97" cy="838.3" r="9.7" fill="#fff"/><circle cx="104.97" cy="838.3" r="5.45" fill="#2ca02c"/>
<circle cx="108.03" cy="834.7" r="9.7" fill="#fff"/><circle cx="108.03" cy="834.7" r="5.45" fill="#2ca02c"/>
<circle cx="111.09" cy="838.3" r="9.7" fill="#fff"/><circle cx="111.09" cy="838.3" r="5.45" fill="#2ca02c"/>
<circle cx="114.14" cy="834.7" r="9.7" fill="#fff"/><circle cx="114.14" cy="834.7" r="5.45" fill="#2ca02c"/>
<circle cx="117.2" cy="838.3" r="9.7" fill="#fff"/><circle cx="117.2" cy="838.3" r="5.45" fill="#2ca02c"/>
<circle cx="120.26" cy="834.7" r="9.7" fill="#fff"/><circle cx="120.26" cy="834.7" r="5.45" fill="#2ca02c"/>
<circle cx="123.31" cy="838.3" r="9.7" fill="#fff"/><circle cx="123.31" cy="838.3" r="5.45" fill="#2ca02c"/>
<circle cx="126.37" cy="834.7" r="9.7" fill="#fff"/><circle cx="126.37" cy="834.7" r="5.45" fill="#2ca02c"/>
<circle cx="129.43" cy="838.3" r="9.7" fill="#fff"/><circle cx="129.43" cy="838.3" r="5.45" fill="#2ca02c"/>
<circle cx="132.49" cy="838.3" r="9.7" fill="#fff"/><circle cx="132.49" cy="838.3" r="5.45" fill="#2ca02c"/>
<circle cx="135.54" cy="838.3" r="9.7" fill="#fff"/><circle cx="135.54" cy="838.3" r="5.45" fill="#2ca02c"/>
<circle cx="138.6" cy="838.3" r="9.7" fill="#fff"/><circle cx="138.6" cy="838.3" r="5.45" fill="#2ca02c"/>
<circle cx="141.66" cy="838.3" r="9.7" fill="#fff"/><circle cx="141.66" cy="838.3" r="5.45" fill="#2ca02c"/>
<circle cx="144.71" cy="838.3" r="9.7" fill="#fff"/><circle cx="144.71" cy="838.3" r="5.45" fill="#2ca02c"/>
<circle cx="147.77" cy="838.3" r="9.7" fill="#fff"/><circle cx="147.77" cy="838.3" r="5.45" fill="#2ca02c"/>
<circle cx="150.83" cy="838.3" r="9.7" fill="#fff"/><circle cx="150.83" cy="838.3" r="5.45" fill="#2ca02c"/>
<circle cx="153.89" cy="838.3" r="9.7" fill="#fff"/><circle cx="153.89" cy="838.3" r="5.45" fill="#2ca02c"/>
<circle cx="156.94" cy="838.3" r="9.7" fill="#fff"/><circle cx="156.94" cy="838.3" r="5.45" fill="#2ca02c"/>
<circle cx="160" cy="838.3" r="9.7" fill="#fff"/><circle cx="160" cy="838.3" r="5.45" fill="#2ca02c"/>
<circle cx="163.06" cy="838.3" r="9.7" fill="#fff"/><circle cx="163.06" cy="838.3" r="5.45" fill="#2ca02c"/>
<circle cx="166.11" cy="838.3" r="9.7" fill="#fff"/><circle cx="166.11" cy="838.3" r="5.45" fill="#2ca02c"/>
<circle cx="169.17" cy="838.3" r="9.7" fill="#fff"/><circle cx="169.17" cy="838.3" r="5.45" fill="#2ca02c"/>
<circle cx="172.23" cy="838.3" r="9.7" fill="#fff"/><circle cx="172.23" cy="838.3" r="5.45" fill="#2ca02c"/>
<circle cx="175.29" cy="838.3" r="9.7" fill="#fff"/><circle cx="175.29" cy="838.3" r="5.45" fill="#2ca02c"/>
<circle cx="178.34" cy="838.3" r="9.7" fill="#fff"/><circle cx="178.34" cy="838.3" r="5.45" fill="#2ca02c"/>
<circle cx="181.4" cy="838.3" r="9.7" fill="#fff"/><circle cx="181.4" cy="838.3" r="5.45" fill="#2ca02c"/>
<circle cx="184.46" cy="838.3" r="9.7" fill="#fff"/><circle cx="184.46" cy="838.3" r="5.45" fill="#2ca02c"/>
<circle cx="187.51" cy="838.3" r="9.7" fill="#fff"/><circle cx="187.51" cy="838.3" r="5.45" fill="#2ca02c"/>
<circle cx="190.57" cy="838.3" r="9.7" fill="#fff"/><circle cx="190.57" cy="838.3" r="5.45" fill="#2ca02c"/>
<circle cx="193.63" cy="838.3" r="9.7" fill="#fff"/><circle cx="193.63" cy="838.3" r="5.45" fill="#2ca02c"/>
<circle cx="196.69" cy="838.3" r="9.7" fill="#fff"/><circle cx="196.69" cy="838.3" r="5.45" fill="#2ca02c"/>
<circle cx="199.74" cy="838.3" r="9.7" fill="#fff"/><circle cx="199.74" cy="838.3" r="5.45" fill="#2ca02c"/>
<circle cx="202.8" cy="838.3" r="9.7" fill="#fff"/><circle cx="202.8" cy="838.3" r="5.45" fill="#2ca02c"/>
<circle cx="205.86" cy="838.3" r="9.7" fill="#fff"/><circle cx="205.86" cy="838.3" r="5.45" fill="#2ca02c"/>
<circle cx="208.91" cy="838.3" r="9.7" fill="#fff"/><circle cx="208.91" cy="838.3" r="5.45" fill="#2ca02c"/>
<circle cx="211.97" cy="838.3" r="9.7" fill="#fff"/><circle cx="211.97" cy="838.3" r="5.45" fill="#2ca02c"/>
<circle cx="215.44" cy="838.5" r="9.7" fill="#fff"/><circle cx="215.44" cy="838.5" r="5.45" fill="#2ca02c"/>
<circle cx="218.49" cy="499.4" r="9.7" fill="#fff"/><circle cx="218.49" cy="499.4" r="5.45" fill="#2ca02c"/>
<circle cx="221.5" cy="205.4" r="9.7" fill="#fff"/><circle cx="221.5" cy="205.4" r="5.45" fill="#2ca02c"/>
<circle cx="224.44" cy="342.4" r="9.7" fill="#fff"/><circle cx="224.44" cy="342.4" r="5.45" fill="#2ca02c"/>
<circle cx="227.39" cy="819.2" r="9.7" fill="#fff"/><circle cx="227.39" cy="819.2" r="5.45" fill="#2ca02c"/>
<circle cx="230.31" cy="837.8" r="9.7" fill="#fff"/><circle cx="230.31" cy="837.8" r="5.45" fill="#2ca02c"/>
<circle cx="233.49" cy="838.5" r="9.7" fill="#fff"/><circle cx="233.49" cy="838.5" r="5.45" fill="#2ca02c"/>
<circle cx="236.44" cy="539.4" r="9.7" fill="#fff"/><circle cx="236.44" cy="539.4" r="5.45" fill="#2ca02c"/>
<circle cx="239.49" cy="211.4" r="9.7" fill="#fff"/><circle cx="239.49" cy="211.4" r="5.45" fill="#2ca02c"/>
<circle cx="242.5" cy="195.4" r="9.7" fill="#fff"/><circle cx="242.5" cy="195.4" r="5.45" fill="#2ca02c"/>
<circle cx="245.6" cy="241.4" r="9.7" fill="#fff"/><circle cx="245.6" cy="241.4" r="5.45" fill="#2ca02c"/>
<circle cx="248.66" cy="213.4" r="9.7" fill="#fff"/><circle cx="248.66" cy="213.4" r="5.45" fill="#2ca02c"/>
<circle cx="251.71" cy="237" r="9.7" fill="#fff"/><circle cx="251.71" cy="237" r="5.45" fill="#2ca02c"/>
<circle cx="254.5" cy="211.4" r="9.7" fill="#fff"/><circle cx="254.5" cy="211.4" r="5.45" fill="#2ca02c"/>
<circle cx="257.47" cy="234.5" r="9.7" fill="#fff"/><circle cx="257.47" cy="234.5" r="5.45" fill="#2ca02c"/>
<circle cx="260.56" cy="340.4" r="9.7" fill="#fff"/><circle cx="260.56" cy="340.4" r="5.45" fill="#2ca02c"/>
<circle cx="264.4" cy="814.4" r="9.7" fill="#fff"/><circle cx="264.4" cy="814.4" r="5.45" fill="#2ca02c"/>
<circle cx="267" cy="259.2" r="9.7" fill="#fff"/><circle cx="267" cy="259.2" r="5.45" fill="#2ca02c"/>
<circle cx="270.06" cy="186.5" r="9.7" fill="#fff"/><circle cx="270.06" cy="186.5" r="5.45" fill="#2ca02c"/>
<circle cx="273.5" cy="194.5" r="9.7" fill="#fff"/><circle cx="273.5" cy="194.5" r="5.45" fill="#2ca02c"/>
<circle cx="276.44" cy="351.4" r="9.7" fill="#fff"/><circle cx="276.44" cy="351.4" r="5.45" fill="#2ca02c"/>
<circle cx="279.44" cy="815.3" r="9.7" fill="#fff"/><circle cx="279.44" cy="815.3" r="5.45" fill="#2ca02c"/>
<circle cx="282.44" cy="405.3" r="9.7" fill="#fff"/><circle cx="282.44" cy="405.3" r="5.45" fill="#2ca02c"/>
<circle cx="285.34" cy="210.6" r="9.7" fill="#fff"/><circle cx="285.34" cy="210.6" r="5.45" fill="#2ca02c"/>
<circle cx="288.4" cy="185.5" r="9.7" fill="#fff"/><circle cx="288.4" cy="185.5" r="5.45" fill="#2ca02c"/>
<circle cx="291.5" cy="217.5" r="9.7" fill="#fff"/><circle cx="291.5" cy="217.5" r="5.45" fill="#2ca02c"/>
<circle cx="294.51" cy="193.6" r="9.7" fill="#fff"/><circle cx="294.51" cy="193.6" r="5.45" fill="#2ca02c"/>
<circle cx="297.57" cy="197.2" r="9.7" fill="#fff"/><circle cx="297.57" cy="197.2" r="5.45" fill="#2ca02c"/>
<circle cx="300.63" cy="194.6" r="9.7" fill="#fff"/><circle cx="300.63" cy="194.6" r="5.45" fill="#2ca02c"/>
<circle cx="303.69" cy="197.5" r="9.7" fill="#fff"/><circle cx="303.69" cy="197.5" r="5.45" fill="#2ca02c"/>
<circle cx="306.74" cy="189.5" r="9.7" fill="#fff"/><circle cx="306.74" cy="189.5" r="5.45" fill="#2ca02c"/>
<circle cx="309.8" cy="184" r="9.7" fill="#fff"/><circle cx="309.8" cy="184" r="5.45" fill="#2ca02c"/>
<circle cx="312.86" cy="172.4" r="9.7" fill="#fff"/><circle cx="312.86" cy="172.4" r="5.45" fill="#2ca02c"/>
<circle cx="316.5" cy="142.4" r="9.7" fill="#fff"/><circle cx="316.5" cy="142.4" r="5.45" fill="#2ca02c"/>
<circle cx="318.97" cy="181.9" r="9.7" fill="#fff"/><circle cx="318.97" cy="181.9" r="5.45" fill="#2ca02c"/>
<circle cx="322.03" cy="185.8" r="9.7" fill="#fff"/><circle cx="322.03" cy="185.8" r="5.45" fill="#2ca02c"/>
<circle cx="325.09" cy="181.9" r="9.7" fill="#fff"/><circle cx="325.09" cy="181.9" r="5.45" fill="#2ca02c"/>
<circle cx="328.14" cy="186.1" r="9.7" fill="#fff"/><circle cx="328.14" cy="186.1" r="5.45" fill="#2ca02c"/>
<circle cx="331.2" cy="185.3" r="9.7" fill="#fff"/><circle cx="331.2" cy="185.3" r="5.45" fill="#2ca02c"/>
<circle cx="334.26" cy="180.5" r="9.7" fill="#fff"/><circle cx="334.26" cy="180.5" r="5.45" fill="#2ca02c"/>
<circle cx="337.31" cy="186.4" r="9.7" fill="#fff"/><circle cx="337.31" cy="186.4" r="5.45" fill="#2ca02c"/>
<circle cx="340.37" cy="216.5" r="9.7" fill="#fff"/><circle cx="340.37" cy="216.5" r="5.45" fill="#2ca02c"/>
<circle cx="343.28" cy="186.5" r="9.7" fill="#fff"/><circle cx="343.28" cy="186.5" r="5.45" fill="#2ca02c"/>
<circle cx="346.49" cy="171.4" r="9.7" fill="#fff"/><circle cx="346.49" cy="171.4" r="5.45" fill="#2ca02c"/>
<circle cx="349.54" cy="159.4" r="9.7" fill="#fff"/><circle cx="349.54" cy="159.4" r="5.45" fill="#2ca02c"/>
<circle cx="352.6" cy="176.5" r="9.7" fill="#fff"/><circle cx="352.6" cy="176.5" r="5.45" fill="#2ca02c"/>
<circle cx="355.66" cy="181.5" r="9.7" fill="#fff"/><circle cx="355.66" cy="181.5" r="5.45" fill="#2ca02c"/>
<circle cx="358.71" cy="181.5" r="9.7" fill="#fff"/><circle cx="358.71" cy="181.5" r="5.45" fill="#2ca02c"/>
<circle cx="361.77" cy="153.4" r="9.7" fill="#fff"/><circle cx="361.77" cy="153.4" r="5.45" fill="#2ca02c"/>
<circle cx="364.5" cy="146.4" r="9.7" fill="#fff"/><circle cx="364.5" cy="146.4" r="5.45" fill="#2ca02c"/>
<circle cx="367.89" cy="163.4" r="9.7" fill="#fff"/><circle cx="367.89" cy="163.4" r="5.45" fill="#2ca02c"/>
<circle cx="370.94" cy="176.4" r="9.7" fill="#fff"/><circle cx="370.94" cy="176.4" r="5.45" fill="#2ca02c"/>
<circle cx="374" cy="169.8" r="9.7" fill="#fff"/><circle cx="374" cy="169.8" r="5.45" fill="#2ca02c"/>
<circle cx="377.06" cy="173" r="9.7" fill="#fff"/><circle cx="377.06" cy="173" r="5.45" fill="#2ca02c"/>
<circle cx="380.5" cy="158.4" r="9.7" fill="#fff"/><circle cx="380.5" cy="158.4" r="5.45" fill="#2ca02c"/>
<circle cx="383.17" cy="176.5" r="9.7" fill="#fff"/><circle cx="383.17" cy="176.5" r="5.45" fill="#2ca02c"/>
<circle cx="386.23" cy="180.8" r="9.7" fill="#fff"/><circle cx="386.23" cy="180.8" r="5.45" fill="#2ca02c"/>
<circle cx="389.29" cy="180.3" r="9.7" fill="#fff"/><circle cx="389.29" cy="180.3" r="5.45" fill="#2ca02c"/>
<circle cx="392.34" cy="179.8" r="9.7" fill="#fff"/><circle cx="392.34" cy="179.8" r="5.45" fill="#2ca02c"/>
<circle cx="395.4" cy="178.45" r="9.7" fill="#fff"/><circle cx="395.4" cy="178.45" r="5.45" fill="#2ca02c"/>
<circle cx="398.46" cy="172.6" r="9.7" fill="#fff"/><circle cx="398.46" cy="172.6" r="5.45" fill="#2ca02c"/>
<circle cx="401.4" cy="157.4" r="9.7" fill="#fff"/><circle cx="401.4" cy="157.4" r="5.45" fill="#2ca02c"/>
<circle cx="404.57" cy="176" r="9.7" fill="#fff"/><circle cx="404.57" cy="176" r="5.45" fill="#2ca02c"/>
<circle cx="407.63" cy="174.7" r="9.7" fill="#fff"/><circle cx="407.63" cy="174.7" r="5.45" fill="#2ca02c"/>
<circle cx="410.55" cy="111.4" r="9.7" fill="#fff"/><circle cx="410.55" cy="111.4" r="5.45" fill="#2ca02c"/>
<circle cx="413.74" cy="173.86" r="9.7" fill="#fff"/><circle cx="413.74" cy="173.86" r="5.45" fill="#2ca02c"/>
<circle cx="416.8" cy="160.1" r="9.7" fill="#fff"/><circle cx="416.8" cy="160.1" r="5.45" fill="#2ca02c"/>
<circle cx="419.86" cy="173.4" r="9.7" fill="#fff"/><circle cx="419.86" cy="173.4" r="5.45" fill="#2ca02c"/>
<circle cx="423.4" cy="195.6" r="9.7" fill="#fff"/><circle cx="423.4" cy="195.6" r="5.45" fill="#2ca02c"/>
<circle cx="426.5" cy="148.4" r="9.7" fill="#fff"/><circle cx="426.5" cy="148.4" r="5.45" fill="#2ca02c"/>
<circle cx="429.03" cy="176.5" r="9.7" fill="#fff"/><circle cx="429.03" cy="176.5" r="5.45" fill="#2ca02c"/>
<circle cx="432.09" cy="171.35" r="9.7" fill="#fff"/><circle cx="432.09" cy="171.35" r="5.45" fill="#2ca02c"/>
<circle cx="435.14" cy="162.6" r="9.7" fill="#fff"/><circle cx="435.14" cy="162.6" r="5.45" fill="#2ca02c"/>
<circle cx="438.2" cy="176.5" r="9.7" fill="#fff"/><circle cx="438.2" cy="176.5" r="5.45" fill="#2ca02c"/>
<circle cx="441.26" cy="168.9" r="9.7" fill="#fff"/><circle cx="441.26" cy="168.9" r="5.45" fill="#2ca02c"/>
<circle cx="444.31" cy="173.4" r="9.7" fill="#fff"/><circle cx="444.31" cy="173.4" r="5.45" fill="#2ca02c"/>
<circle cx="447.37" cy="168.4" r="9.7" fill="#fff"/><circle cx="447.37" cy="168.4" r="5.45" fill="#2ca02c"/>
<circle cx="450.43" cy="158" r="9.7" fill="#fff"/><circle cx="450.43" cy="158" r="5.45" fill="#2ca02c"/>
<circle cx="453.49" cy="167.6" r="9.7" fill="#fff"/><circle cx="453.49" cy="167.6" r="5.45" fill="#2ca02c"/>
<circle cx="456.54" cy="176.4" r="9.7" fill="#fff"/><circle cx="456.54" cy="176.4" r="5.45" fill="#2ca02c"/>
<circle cx="459.6" cy="159.2" r="9.7" fill="#fff"/><circle cx="459.6" cy="159.2" r="5.45" fill="#2ca02c"/>
<circle cx="462.66" cy="181.4" r="9.7" fill="#fff"/><circle cx="462.66" cy="181.4" r="5.45" fill="#2ca02c"/>
<circle cx="465.71" cy="166.8" r="9.7" fill="#fff"/><circle cx="465.71" cy="166.8" r="5.45" fill="#2ca02c"/>
<circle cx="468.77" cy="157.3" r="9.7" fill="#fff"/><circle cx="468.77" cy="157.3" r="5.45" fill="#2ca02c"/>
<circle cx="471.83" cy="177.6" r="9.7" fill="#fff"/><circle cx="471.83" cy="177.6" r="5.45" fill="#2ca02c"/>
<circle cx="474.89" cy="166.3" r="9.7" fill="#fff"/><circle cx="474.89" cy="166.3" r="5.45" fill="#2ca02c"/>
<circle cx="477.94" cy="163" r="9.7" fill="#fff"/><circle cx="477.94" cy="163" r="5.45" fill="#2ca02c"/>
<circle cx="481" cy="165.2" r="9.7" fill="#fff"/><circle cx="481" cy="165.2" r="5.45" fill="#2ca02c"/>
<circle cx="484.06" cy="168.85" r="9.7" fill="#fff"/><circle cx="484.06" cy="168.85" r="5.45" fill="#2ca02c"/>
<circle cx="487.11" cy="176.2" r="9.7" fill="#fff"/><circle cx="487.11" cy="176.2" r="5.45" fill="#2ca02c"/>
<circle cx="490.17" cy="160.66" r="9.7" fill="#fff"/><circle cx="490.17" cy="160.66" r="5.45" fill="#2ca02c"/>
<circle cx="493.23" cy="179.46" r="9.7" fill="#fff"/><circle cx="493.23" cy="179.46" r="5.45" fill="#2ca02c"/>
<circle cx="496.29" cy="149.5" r="9.7" fill="#fff"/><circle cx="496.29" cy="149.5" r="5.45" fill="#2ca02c"/>
<circle cx="499.34" cy="173.4" r="9.7" fill="#fff"/><circle cx="499.34" cy="173.4" r="5.45" fill="#2ca02c"/>
<circle cx="502.4" cy="174.7" r="9.7" fill="#fff"/><circle cx="502.4" cy="174.7" r="5.45" fill="#2ca02c"/>
<circle cx="505.46" cy="153.2" r="9.7" fill="#fff"/><circle cx="505.46" cy="153.2" r="5.45" fill="#2ca02c"/>
<circle cx="508.51" cy="166.5" r="9.7" fill="#fff"/><circle cx="508.51" cy="166.5" r="5.45" fill="#2ca02c"/>
<circle cx="511.57" cy="164.7" r="9.7" fill="#fff"/><circle cx="511.57" cy="164.7" r="5.45" fill="#2ca02c"/>
<circle cx="514.63" cy="179.6" r="9.7" fill="#fff"/><circle cx="514.63" cy="179.6" r="5.45" fill="#2ca02c"/>
<circle cx="517.69" cy="176.5" r="9.7" fill="#fff"/><circle cx="517.69" cy="176.5" r="5.45" fill="#2ca02c"/>
<circle cx="520.74" cy="162.7" r="9.7" fill="#fff"/><circle cx="520.74" cy="162.7" r="5.45" fill="#2ca02c"/>
<circle cx="523.8" cy="166.76" r="9.7" fill="#fff"/><circle cx="523.8" cy="166.76" r="5.45" fill="#2ca02c"/>
<circle cx="526.86" cy="156.5" r="9.7" fill="#fff"/><circle cx="526.86" cy="156.5" r="5.45" fill="#2ca02c"/>
<circle cx="529.91" cy="168" r="9.7" fill="#fff"/><circle cx="529.91" cy="168" r="5.45" fill="#2ca02c"/>
<circle cx="532.97" cy="165.9" r="9.7" fill="#fff"/><circle cx="532.97" cy="165.9" r="5.45" fill="#2ca02c"/>
<circle cx="536.03" cy="174.7" r="9.7" fill="#fff"/><circle cx="536.03" cy="174.7" r="5.45" fill="#2ca02c"/>
<circle cx="539.09" cy="166" r="9.7" fill="#fff"/><circle cx="539.09" cy="166" r="5.45" fill="#2ca02c"/>
<circle cx="542.14" cy="166.5" r="9.7" fill="#fff"/><circle cx="542.14" cy="166.5" r="5.45" fill="#2ca02c"/>
<circle cx="545.2" cy="166.8" r="9.7" fill="#fff"/><circle cx="545.2" cy="166.8" r="5.45" fill="#2ca02c"/>
<circle cx="548.26" cy="162.4" r="9.7" fill="#fff"/><circle cx="548.26" cy="162.4" r="5.45" fill="#2ca02c"/>
<circle cx="551.31" cy="173.44" r="9.7" fill="#fff"/><circle cx="551.31" cy="173.44" r="5.45" fill="#2ca02c"/>
<circle cx="554.37" cy="159.5" r="9.7" fill="#fff"/><circle cx="554.37" cy="159.5" r="5.45" fill="#2ca02c"/>
<circle cx="557.43" cy="160.1" r="9.7" fill="#fff"/><circle cx="557.43" cy="160.1" r="5.45" fill="#2ca02c"/>
<circle cx="560.49" cy="168.85" r="9.7" fill="#fff"/><circle cx="560.49" cy="168.85" r="5.45" fill="#2ca02c"/>
<circle cx="563.54" cy="158.4" r="9.7" fill="#fff"/><circle cx="563.54" cy="158.4" r="5.45" fill="#2ca02c"/>
<circle cx="566.6" cy="178.45" r="9.7" fill="#fff"/><circle cx="566.6" cy="178.45" r="5.45" fill="#2ca02c"/>
<circle cx="569.66" cy="165.5" r="9.7" fill="#fff"/><circle cx="569.66" cy="165.5" r="5.45" fill="#2ca02c"/>
<circle cx="572.71" cy="175.5" r="9.7" fill="#fff"/><circle cx="572.71" cy="175.5" r="5.45" fill="#2ca02c"/>
<circle cx="575.77" cy="161.5" r="9.7" fill="#fff"/><circle cx="575.77" cy="161.5" r="5.45" fill="#2ca02c"/>
<circle cx="578.83" cy="173.8" r="9.7" fill="#fff"/><circle cx="578.83" cy="173.8" r="5.45" fill="#2ca02c"/>
<circle cx="581.89" cy="171.5" r="9.7" fill="#fff"/><circle cx="581.89" cy="171.5" r="5.45" fill="#2ca02c"/>
<circle cx="584.94" cy="149.47" r="9.7" fill="#fff"/><circle cx="584.94" cy="149.47" r="5.45" fill="#2ca02c"/>
<circle cx="588" cy="174.5" r="9.7" fill="#fff"/><circle cx="588" cy="174.5" r="5.45" fill="#2ca02c"/>
<circle cx="591.06" cy="174.7" r="9.7" fill="#fff"/><circle cx="591.06" cy="174.7" r="5.45" fill="#2ca02c"/>
<circle cx="594.11" cy="159.66" r="9.7" fill="#fff"/><circle cx="594.11" cy="159.66" r="5.45" fill="#2ca02c"/>
<circle cx="597.17" cy="175.5" r="9.7" fill="#fff"/><circle cx="597.17" cy="175.5" r="5.45" fill="#2ca02c"/>
<circle cx="600.23" cy="174.5" r="9.7" fill="#fff"/><circle cx="600.23" cy="174.5" r="5.45" fill="#2ca02c"/>
<circle cx="603.29" cy="157.4" r="9.7" fill="#fff"/><circle cx="603.29" cy="157.4" r="5.45" fill="#2ca02c"/>
<circle cx="606.34" cy="168" r="9.7" fill="#fff"/><circle cx="606.34" cy="168" r="5.45" fill="#2ca02c"/>
<circle cx="609.4" cy="166.3" r="9.7" fill="#fff"/><circle cx="609.4" cy="166.3" r="5.45" fill="#2ca02c"/>
<circle cx="612.46" cy="161.75" r="9.7" fill="#fff"/><circle cx="612.46" cy="161.75" r="5.45" fill="#2ca02c"/>
<circle cx="615.51" cy="191.57" r="9.7" fill="#fff"/><circle cx="615.51" cy="191.57" r="5.45" fill="#2ca02c"/>
<circle cx="618.57" cy="159.4" r="9.7" fill="#fff"/><circle cx="618.57" cy="159.4" r="5.45" fill="#2ca02c"/>
<circle cx="621.63" cy="180.5" r="9.7" fill="#fff"/><circle cx="621.63" cy="180.5" r="5.45" fill="#2ca02c"/>
<circle cx="624.69" cy="168" r="9.7" fill="#fff"/><circle cx="624.69" cy="168" r="5.45" fill="#2ca02c"/>
<circle cx="627.74" cy="165.2" r="9.7" fill="#fff"/><circle cx="627.74" cy="165.2" r="5.45" fill="#2ca02c"/>
<circle cx="630.8" cy="168.7" r="9.7" fill="#fff"/><circle cx="630.8" cy="168.7" r="5.45" fill="#2ca02c"/>
<circle cx="633.86" cy="154.5" r="9.7" fill="#fff"/><circle cx="633.86" cy="154.5" r="5.45" fill="#2ca02c"/>
<circle cx="636.91" cy="174" r="9.7" fill="#fff"/><circle cx="636.91" cy="174" r="5.45" fill="#2ca02c"/>
<circle cx="639.97" cy="174.5" r="9.7" fill="#fff"/><circle cx="639.97" cy="174.5" r="5.45" fill="#2ca02c"/>
<circle cx="643.03" cy="164.75" r="9.7" fill="#fff"/><circle cx="643.03" cy="164.75" r="5.45" fill="#2ca02c"/>
<circle cx="646.09" cy="170.1" r="9.7" fill="#fff"/><circle cx="646.09" cy="170.1" r="5.45" fill="#2ca02c"/>
<circle cx="649.14" cy="162.16" r="9.7" fill="#fff"/><circle cx="649.14" cy="162.16" r="5.45" fill="#2ca02c"/>
<circle cx="652.2" cy="168.85" r="9.7" fill="#fff"/><circle cx="652.2" cy="168.85" r="5.45" fill="#2ca02c"/>
<circle cx="655.26" cy="164.5" r="9.7" fill="#fff"/><circle cx="655.26" cy="164.5" r="5.45" fill="#2ca02c"/>
<circle cx="658.31" cy="179.3" r="9.7" fill="#fff"/><circle cx="658.31" cy="179.3" r="5.45" fill="#2ca02c"/>
<circle cx="661.37" cy="152.4" r="9.7" fill="#fff"/><circle cx="661.37" cy="152.4" r="5.45" fill="#2ca02c"/>
<circle cx="664.43" cy="180.5" r="9.7" fill="#fff"/><circle cx="664.43" cy="180.5" r="5.45" fill="#2ca02c"/>
<circle cx="667.49" cy="158.4" r="9.7" fill="#fff"/><circle cx="667.49" cy="158.4" r="5.45" fill="#2ca02c"/>
<circle cx="670.54" cy="167.6" r="9.7" fill="#fff"/><circle cx="670.54" cy="167.6" r="5.45" fill="#2ca02c"/>
<circle cx="673.6" cy="172" r="9.7" fill="#fff"/><circle cx="673.6" cy="172" r="5.45" fill="#2ca02c"/>
<circle cx="676.66" cy="171.3" r="9.7" fill="#fff"/><circle cx="676.66" cy="171.3" r="5.45" fill="#2ca02c"/>
<circle cx="679.71" cy="167.6" r="9.7" fill="#fff"/><circle cx="679.71" cy="167.6" r="5.45" fill="#2ca02c"/>
<circle cx="682.77" cy="178.45" r="9.7" fill="#fff"/><circle cx="682.77" cy="178.45" r="5.45" fill="#2ca02c"/>
<circle cx="685.83" cy="157.3" r="9.7" fill="#fff"/><circle cx="685.83" cy="157.3" r="5.45" fill="#2ca02c"/>
<circle cx="688.89" cy="168" r="9.7" fill="#fff"/><circle cx="688.89" cy="168" r="5.45" fill="#2ca02c"/>
<circle cx="691.94" cy="168.6" r="9.7" fill="#fff"/><circle cx="691.94" cy="168.6" r="5.45" fill="#2ca02c"/>
<circle cx="695" cy="156.3" r="9.7" fill="#fff"/><circle cx="695" cy="156.3" r="5.45" fill="#2ca02c"/>
<circle cx="698.06" cy="181.55" r="9.7" fill="#fff"/><circle cx="698.06" cy="181.55" r="5.45" fill="#2ca02c"/>
<circle cx="701.11" cy="156.3" r="9.7" fill="#fff"/><circle cx="701.11" cy="156.3" r="5.45" fill="#2ca02c"/>
<circle cx="704.17" cy="174.7" r="9.7" fill="#fff"/><circle cx="704.17" cy="174.7" r="5.45" fill="#2ca02c"/>
<circle cx="707.23" cy="170.2" r="9.7" fill="#fff"/><circle cx="707.23" cy="170.2" r="5.45" fill="#2ca02c"/>
<circle cx="710.29" cy="167.3" r="9.7" fill="#fff"/><circle cx="710.29" cy="167.3" r="5.45" fill="#2ca02c"/>
<circle cx="713.34" cy="168" r="9.7" fill="#fff"/><circle cx="713.34" cy="168" r="5.45" fill="#2ca02c"/>
<circle cx="716.4" cy="176.4" r="9.7" fill="#fff"/><circle cx="716.4" cy="176.4" r="5.45" fill="#2ca02c"/>
<circle cx="719.46" cy="156.5" r="9.7" fill="#fff"/><circle cx="719.46" cy="156.5" r="5.45" fill="#2ca02c"/>
<circle cx="722.51" cy="172.36" r="9.7" fill="#fff"/><circle cx="722.51" cy="172.36" r="5.45" fill="#2ca02c"/>
<circle cx="725.57" cy="150.47" r="9.7" fill="#fff"/><circle cx="725.57" cy="150.47" r="5.45" fill="#2ca02c"/>
<circle cx="728.63" cy="178.3" r="9.7" fill="#fff"/><circle cx="728.63" cy="178.3" r="5.45" fill="#2ca02c"/>
<circle cx="731.69" cy="157.4" r="9.7" fill="#fff"/><circle cx="731.69" cy="157.4" r="5.45" fill="#2ca02c"/>
<circle cx="734.74" cy="181.55" r="9.7" fill="#fff"/><circle cx="734.74" cy="181.55" r="5.45" fill="#2ca02c"/>
<circle cx="737.8" cy="168" r="9.7" fill="#fff"/><circle cx="737.8" cy="168" r="5.45" fill="#2ca02c"/>
<circle cx="740.86" cy="163.4" r="9.7" fill="#fff"/><circle cx="740.86" cy="163.4" r="5.45" fill="#2ca02c"/>
<circle cx="743.91" cy="178.45" r="9.7" fill="#fff"/><circle cx="743.91" cy="178.45" r="5.45" fill="#2ca02c"/>
<circle cx="746.97" cy="168.85" r="9.7" fill="#fff"/><circle cx="746.97" cy="168.85" r="5.45" fill="#2ca02c"/>
<circle cx="750.03" cy="159.24" r="9.7" fill="#fff"/><circle cx="750.03" cy="159.24" r="5.45" fill="#2ca02c"/>
<circle cx="753.09" cy="174.3" r="9.7" fill="#fff"/><circle cx="753.09" cy="174.3" r="5.45" fill="#2ca02c"/>
<circle cx="756.14" cy="155.5" r="9.7" fill="#fff"/><circle cx="756.14" cy="155.5" r="5.45" fill="#2ca02c"/>
<circle cx="759.2" cy="178.45" r="9.7" fill="#fff"/><circle cx="759.2" cy="178.45" r="5.45" fill="#2ca02c"/>
<circle cx="762.26" cy="168.6" r="9.7" fill="#fff"/><circle cx="762.26" cy="168.6" r="5.45" fill="#2ca02c"/>
<circle cx="765.31" cy="168" r="9.7" fill="#fff"/><circle cx="765.31" cy="168" r="5.45" fill="#2ca02c"/>
<circle cx="768.37" cy="171.77" r="9.7" fill="#fff"/><circle cx="768.37" cy="171.77" r="5.45" fill="#2ca02c"/>
<circle cx="771.43" cy="159.66" r="9.7" fill="#fff"/><circle cx="771.43" cy="159.66" r="5.45" fill="#2ca02c"/>
<circle cx="774.49" cy="173.44" r="9.7" fill="#fff"/><circle cx="774.49" cy="173.44" r="5.45" fill="#2ca02c"/>
<circle cx="777.54" cy="155.5" r="9.7" fill="#fff"/><circle cx="777.54" cy="155.5" r="5.45" fill="#2ca02c"/>
<circle cx="780.6" cy="171.77" r="9.7" fill="#fff"/><circle cx="780.6" cy="171.77" r="5.45" fill="#2ca02c"/>
<circle cx="783.66" cy="162.3" r="9.7" fill="#fff"/><circle cx="783.66" cy="162.3" r="5.45" fill="#2ca02c"/>
<circle cx="786.71" cy="172.5" r="9.7" fill="#fff"/><circle cx="786.71" cy="172.5" r="5.45" fill="#2ca02c"/>
<circle cx="789.77" cy="171.6" r="9.7" fill="#fff"/><circle cx="789.77" cy="171.6" r="5.45" fill="#2ca02c"/>
<circle cx="792.83" cy="164.5" r="9.7" fill="#fff"/><circle cx="792.83" cy="164.5" r="5.45" fill="#2ca02c"/>
<circle cx="795.89" cy="169.5" r="9.7" fill="#fff"/><circle cx="795.89" cy="169.5" r="5.45" fill="#2ca02c"/>
<circle cx="799.47" cy="146.46" r="9.7" fill="#fff"/><circle cx="799.47" cy="146.46" r="5.45" fill="#2ca02c"/>
<circle cx="802" cy="174.5" r="9.7" fill="#fff"/><circle cx="802" cy="174.5" r="5.45" fill="#2ca02c"/>
<circle cx="805.06" cy="161.6" r="9.7" fill="#fff"/><circle cx="805.06" cy="161.6" r="5.45" fill="#2ca02c"/>
<circle cx="808.5" cy="200.4" r="9.7" fill="#fff"/><circle cx="808.5" cy="200.4" r="5.45" fill="#2ca02c"/>
<circle cx="811.17" cy="170.7" r="9.7" fill="#fff"/><circle cx="811.17" cy="170.7" r="5.45" fill="#2ca02c"/>
<circle cx="814.23" cy="160.9" r="9.7" fill="#fff"/><circle cx="814.23" cy="160.9" r="5.45" fill="#2ca02c"/>
<circle cx="817.29" cy="182.6" r="9.7" fill="#fff"/><circle cx="817.29" cy="182.6" r="5.45" fill="#2ca02c"/>
<circle cx="820.34" cy="158.65" r="9.7" fill="#fff"/><circle cx="820.34" cy="158.65" r="5.45" fill="#2ca02c"/>
<circle cx="823.4" cy="164.67" r="9.7" fill="#fff"/><circle cx="823.4" cy="164.67" r="5.45" fill="#2ca02c"/>
<circle cx="826.46" cy="173.44" r="9.7" fill="#fff"/><circle cx="826.46" cy="173.44" r="5.45" fill="#2ca02c"/>
<circle cx="829.51" cy="157.6" r="9.7" fill="#fff"/><circle cx="829.51" cy="157.6" r="5.45" fill="#2ca02c"/>
<circle cx="832.57" cy="176.4" r="9.7" fill="#fff"/><circle cx="832.57" cy="176.4" r="5.45" fill="#2ca02c"/>
<circle cx="835.63" cy="160.5" r="9.7" fill="#fff"/><circle cx="835.63" cy="160.5" r="5.45" fill="#2ca02c"/>
<circle cx="838.69" cy="178.45" r="9.7" fill="#fff"/><circle cx="838.69" cy="178.45" r="5.45" fill="#2ca02c"/>
<circle cx="841.74" cy="164.25" r="9.7" fill="#fff"/><circle cx="841.74" cy="164.25" r="5.45" fill="#2ca02c"/>
<circle cx="844.8" cy="172.36" r="9.7" fill="#fff"/><circle cx="844.8" cy="172.36" r="5.45" fill="#2ca02c"/>
<circle cx="847.86" cy="165" r="9.7" fill="#fff"/><circle cx="847.86" cy="165" r="5.45" fill="#2ca02c"/>
<circle cx="850.91" cy="165.76" r="9.7" fill="#fff"/><circle cx="850.91" cy="165.76" r="5.45" fill="#2ca02c"/>
<circle cx="853.97" cy="178.45" r="9.7" fill="#fff"/><circle cx="853.97" cy="178.45" r="5.45" fill="#2ca02c"/>
<circle cx="857.03" cy="167.55" r="9.7" fill="#fff"/><circle cx="857.03" cy="167.55" r="5.45" fill="#2ca02c"/>
<circle cx="860.09" cy="166" r="9.7" fill="#fff"/><circle cx="860.09" cy="166" r="5.45" fill="#2ca02c"/>
<circle cx="863.14" cy="163.8" r="9.7" fill="#fff"/><circle cx="863.14" cy="163.8" r="5.45" fill="#2ca02c"/>
<circle cx="866.2" cy="175" r="9.7" fill="#fff"/><circle cx="866.2" cy="175" r="5.45" fill="#2ca02c"/>
<circle cx="869.26" cy="174.2" r="9.7" fill="#fff"/><circle cx="869.26" cy="174.2" r="5.45" fill="#2ca02c"/>
<circle cx="872.31" cy="170.7" r="9.7" fill="#fff"/><circle cx="872.31" cy="170.7" r="5.45" fill="#2ca02c"/>
<circle cx="875.37" cy="162.3" r="9.7" fill="#fff"/><circle cx="875.37" cy="162.3" r="5.45" fill="#2ca02c"/>
<circle cx="878.43" cy="167" r="9.7" fill="#fff"/><circle cx="878.43" cy="167" r="5.45" fill="#2ca02c"/>
<circle cx="881.49" cy="166.3" r="9.7" fill="#fff"/><circle cx="881.49" cy="166.3" r="5.45" fill="#2ca02c"/>
<circle cx="884.54" cy="173.2" r="9.7" fill="#fff"/><circle cx="884.54" cy="173.2" r="5.45" fill="#2ca02c"/>
<circle cx="887.6" cy="169.9" r="9.7" fill="#fff"/><circle cx="887.6" cy="169.9" r="5.45" fill="#2ca02c"/>
<circle cx="890.66" cy="170.1" r="9.7" fill="#fff"/><circle cx="890.66" cy="170.1" r="5.45" fill="#2ca02c"/>
<circle cx="893.71" cy="163.2" r="9.7" fill="#fff"/><circle cx="893.71" cy="163.2" r="5.45" fill="#2ca02c"/>
<circle cx="896.77" cy="159.5" r="9.7" fill="#fff"/><circle cx="896.77" cy="159.5" r="5.45" fill="#2ca02c"/>
<circle cx="899.83" cy="175" r="9.7" fill="#fff"/><circle cx="899.83" cy="175" r="5.45" fill="#2ca02c"/>
<circle cx="902.89" cy="173.6" r="9.7" fill="#fff"/><circle cx="902.89" cy="173.6" r="5.45" fill="#2ca02c"/>
<circle cx="905.94" cy="159.7" r="9.7" fill="#fff"/><circle cx="905.94" cy="159.7" r="5.45" fill="#2ca02c"/>
<circle cx="909" cy="158.4" r="9.7" fill="#fff"/><circle cx="909" cy="158.4" r="5.45" fill="#2ca02c"/>
<circle cx="912.06" cy="177.6" r="9.7" fill="#fff"/><circle cx="912.06" cy="177.6" r="5.45" fill="#2ca02c"/>
<circle cx="915.11" cy="162" r="9.7" fill="#fff"/><circle cx="915.11" cy="162" r="5.45" fill="#2ca02c"/>
<circle cx="918.17" cy="159.5" r="9.7" fill="#fff"/><circle cx="918.17" cy="159.5" r="5.45" fill="#2ca02c"/>
<circle cx="921.23" cy="169.6" r="9.7" fill="#fff"/><circle cx="921.23" cy="169.6" r="5.45" fill="#2ca02c"/>
<circle cx="924.29" cy="171" r="9.7" fill="#fff"/><circle cx="924.29" cy="171" r="5.45" fill="#2ca02c"/>
<circle cx="927.34" cy="171.77" r="9.7" fill="#fff"/><circle cx="927.34" cy="171.77" r="5.45" fill="#2ca02c"/>
<circle cx="930.4" cy="162.16" r="9.7" fill="#fff"/><circle cx="930.4" cy="162.16" r="5.45" fill="#2ca02c"/>
<circle cx="933.46" cy="175.5" r="9.7" fill="#fff"/><circle cx="933.46" cy="175.5" r="5.45" fill="#2ca02c"/>
<circle cx="936.51" cy="159.6" r="9.7" fill="#fff"/><circle cx="936.51" cy="159.6" r="5.45" fill="#2ca02c"/>
<circle cx="939.57" cy="177" r="9.7" fill="#fff"/><circle cx="939.57" cy="177" r="5.45" fill="#2ca02c"/>
<circle cx="942.63" cy="179.3" r="9.7" fill="#fff"/><circle cx="942.63" cy="179.3" r="5.45" fill="#2ca02c"/>
<circle cx="945.69" cy="151.4" r="9.7" fill="#fff"/><circle cx="945.69" cy="151.4" r="5.45" fill="#2ca02c"/>
<circle cx="948.74" cy="177.2" r="9.7" fill="#fff"/><circle cx="948.74" cy="177.2" r="5.45" fill="#2ca02c"/>
<circle cx="951.8" cy="164" r="9.7" fill="#fff"/><circle cx="951.8" cy="164" r="5.45" fill="#2ca02c"/>
<circle cx="954.86" cy="178.6" r="9.7" fill="#fff"/><circle cx="954.86" cy="178.6" r="5.45" fill="#2ca02c"/>
<circle cx="957.91" cy="153.8" r="9.7" fill="#fff"/><circle cx="957.91" cy="153.8" r="5.45" fill="#2ca02c"/>
<circle cx="960.97" cy="175.7" r="9.7" fill="#fff"/><circle cx="960.97" cy="175.7" r="5.45" fill="#2ca02c"/>
<circle cx="964.5" cy="151.3" r="9.7" fill="#fff"/><circle cx="964.5" cy="151.3" r="5.45" fill="#2ca02c"/>
<circle cx="967.09" cy="178.9" r="9.7" fill="#fff"/><circle cx="967.09" cy="178.9" r="5.45" fill="#2ca02c"/>
<circle cx="970.14" cy="165.5" r="9.7" fill="#fff"/><circle cx="970.14" cy="165.5" r="5.45" fill="#2ca02c"/>
<circle cx="973.2" cy="176.4" r="9.7" fill="#fff"/><circle cx="973.2" cy="176.4" r="5.45" fill="#2ca02c"/>
<circle cx="976.26" cy="163" r="9.7" fill="#fff"/><circle cx="976.26" cy="163" r="5.45" fill="#2ca02c"/>
<circle cx="979.31" cy="169.8" r="9.7" fill="#fff"/><circle cx="979.31" cy="169.8" r="5.45" fill="#2ca02c"/>
<circle cx="982.37" cy="173.44" r="9.7" fill="#fff"/><circle cx="982.37" cy="173.44" r="5.45" fill="#2ca02c"/>
<circle cx="985.43" cy="158.4" r="9.7" fill="#fff"/><circle cx="985.43" cy="158.4" r="5.45" fill="#2ca02c"/>
<circle cx="988.49" cy="176.4" r="9.7" fill="#fff"/><circle cx="988.49" cy="176.4" r="5.45" fill="#2ca02c"/>
<circle cx="991.54" cy="154.5" r="9.7" fill="#fff"/><circle cx="991.54" cy="154.5" r="5.45" fill="#2ca02c"/>
<circle cx="994.6" cy="176" r="9.7" fill="#fff"/><circle cx="994.6" cy="176" r="5.45" fill="#2ca02c"/>
<circle cx="997.66" cy="175.5" r="9.7" fill="#fff"/><circle cx="997.66" cy="175.5" r="5.45" fill="#2ca02c"/>
<circle cx="1000.71" cy="164.5" r="9.7" fill="#fff"/><circle cx="1000.71" cy="164.5" r="5.45" fill="#2ca02c"/>
<circle cx="1003.44" cy="190.4" r="9.7" fill="#fff"/><circle cx="1003.44" cy="190.4" r="5.45" fill="#2ca02c"/>
<circle cx="1006.83" cy="164.5" r="9.7" fill="#fff"/><circle cx="1006.83" cy="164.5" r="5.45" fill="#2ca02c"/>
<circle cx="1009.89" cy="166" r="9.7" fill="#fff"/><circle cx="1009.89" cy="166" r="5.45" fill="#2ca02c"/>
<circle cx="1012.94" cy="167.2" r="9.7" fill="#fff"/><circle cx="1012.94" cy="167.2" r="5.45" fill="#2ca02c"/>
<circle cx="1016" cy="152.4" r="9.7" fill="#fff"/><circle cx="1016" cy="152.4" r="5.45" fill="#2ca02c"/>
<circle cx="1019.06" cy="174.7" r="9.7" fill="#fff"/><circle cx="1019.06" cy="174.7" r="5.45" fill="#2ca02c"/>
<circle cx="1022.11" cy="160.3" r="9.7" fill="#fff"/><circle cx="1022.11" cy="160.3" r="5.45" fill="#2ca02c"/>
<circle cx="1025.17" cy="177.4" r="9.7" fill="#fff"/><circle cx="1025.17" cy="177.4" r="5.45" fill="#2ca02c"/>
<circle cx="1028.23" cy="172.36" r="9.7" fill="#fff"/><circle cx="1028.23" cy="172.36" r="5.45" fill="#2ca02c"/>
<circle cx="1031.29" cy="163.7" r="9.7" fill="#fff"/><circle cx="1031.29" cy="163.7" r="5.45" fill="#2ca02c"/>
<circle cx="1034.34" cy="168" r="9.7" fill="#fff"/><circle cx="1034.34" cy="168" r="5.45" fill="#2ca02c"/>
<circle cx="1037.4" cy="168" r="9.7" fill="#fff"/><circle cx="1037.4" cy="168" r="5.45" fill="#2ca02c"/>
<circle cx="1040.46" cy="165.5" r="9.7" fill="#fff"/><circle cx="1040.46" cy="165.5" r="5.45" fill="#2ca02c"/>
<circle cx="1043.51" cy="172.6" r="9.7" fill="#fff"/><circle cx="1043.51" cy="172.6" r="5.45" fill="#2ca02c"/>
<circle cx="1046.57" cy="164.5" r="9.7" fill="#fff"/><circle cx="1046.57" cy="164.5" r="5.45" fill="#2ca02c"/>
<circle cx="1049.63" cy="162.3" r="9.7" fill="#fff"/><circle cx="1049.63" cy="162.3" r="5.45" fill="#2ca02c"/>
<circle cx="1052.69" cy="177.4" r="9.7" fill="#fff"/><circle cx="1052.69" cy="177.4" r="5.45" fill="#2ca02c"/>
<circle cx="1055.24" cy="170.35" r="9.7" fill="#fff"/><circle cx="1055.24" cy="170.35" r="5.45" fill="#2ca02c"/>
</g>
<path d="M95.5 57.5V838.5H1165.5" stroke="#000" stroke-width="1" fill="none" stroke-linecap="square"/>
</svg>
</body></html>
